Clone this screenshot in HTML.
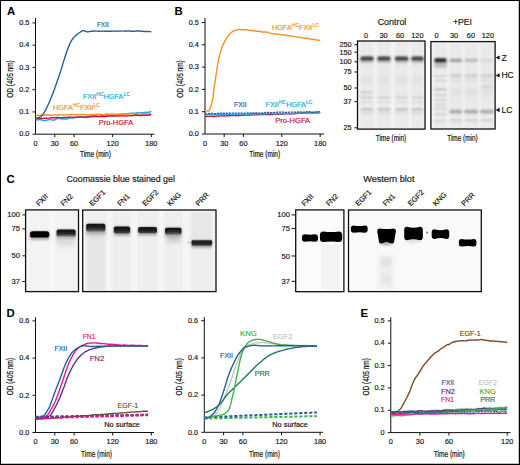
<!DOCTYPE html>
<html><head><meta charset="utf-8"><style>
html,body{margin:0;padding:0;background:#fff;}
body{width:520px;height:465px;overflow:hidden;font-family:"Liberation Sans",sans-serif;}
svg{display:block;}
</style></head><body>
<svg width="520" height="465" viewBox="0 0 520 465" font-family='"Liberation Sans", sans-serif'>
<defs>
<filter id="b05" x="-50%" y="-50%" width="200%" height="200%"><feGaussianBlur stdDeviation="0.5"/></filter>
<filter id="b08" x="-50%" y="-50%" width="200%" height="200%"><feGaussianBlur stdDeviation="0.8"/></filter>
<filter id="b12" x="-50%" y="-50%" width="200%" height="200%"><feGaussianBlur stdDeviation="1.2"/></filter>
<linearGradient id="cg" x1="0" y1="0" x2="0" y2="1"><stop offset="0" stop-color="#141414"/><stop offset="0.55" stop-color="#1e1e1e"/><stop offset="1" stop-color="#4a4a4a"/></linearGradient>
<filter id="b2" x="-50%" y="-50%" width="200%" height="200%"><feGaussianBlur stdDeviation="2"/></filter>
</defs>
<rect x="0" y="0" width="520" height="465" fill="#fff"/>
<text x="7" y="14.8" font-size="11.4" font-weight="bold" fill="#000">A</text>
<text x="174.6" y="14.8" font-size="11.4" font-weight="bold" fill="#000">B</text>
<text x="6.6" y="182.6" font-size="11.4" font-weight="bold" fill="#000">C</text>
<text x="6.6" y="316.8" font-size="11.4" font-weight="bold" fill="#000">D</text>
<text x="360.6" y="316.8" font-size="11.4" font-weight="bold" fill="#000">E</text>
<path d="M35.5,18 V134.2 H154.5" fill="none" stroke="#111" stroke-width="1"/>
<path d="M32.5,134.20 H35.5" stroke="#111" stroke-width="1"/>
<text x="29.30" y="136.40" font-size="7.3" text-anchor="end" fill="#1a1a1a" color="#1a1a1a" stroke-width="0.18" stroke="currentColor" >0.0</text>
<path d="M32.5,111.94 H35.5" stroke="#111" stroke-width="1"/>
<text x="29.30" y="114.14" font-size="7.3" text-anchor="end" fill="#1a1a1a" color="#1a1a1a" stroke-width="0.18" stroke="currentColor" >0.1</text>
<path d="M32.5,89.68 H35.5" stroke="#111" stroke-width="1"/>
<text x="29.30" y="91.88" font-size="7.3" text-anchor="end" fill="#1a1a1a" color="#1a1a1a" stroke-width="0.18" stroke="currentColor" >0.2</text>
<path d="M32.5,67.42 H35.5" stroke="#111" stroke-width="1"/>
<text x="29.30" y="69.62" font-size="7.3" text-anchor="end" fill="#1a1a1a" color="#1a1a1a" stroke-width="0.18" stroke="currentColor" >0.3</text>
<path d="M32.5,45.16 H35.5" stroke="#111" stroke-width="1"/>
<text x="29.30" y="47.36" font-size="7.3" text-anchor="end" fill="#1a1a1a" color="#1a1a1a" stroke-width="0.18" stroke="currentColor" >0.4</text>
<path d="M32.5,22.90 H35.5" stroke="#111" stroke-width="1"/>
<text x="29.30" y="25.10" font-size="7.3" text-anchor="end" fill="#1a1a1a" color="#1a1a1a" stroke-width="0.18" stroke="currentColor" >0.5</text>
<text x="35.50" y="145.80" font-size="7.3" text-anchor="middle" fill="#1a1a1a" color="#1a1a1a" stroke-width="0.18" stroke="currentColor" >0</text>
<path d="M54.80,134.2 V137.2" stroke="#111" stroke-width="1"/>
<text x="54.80" y="145.80" font-size="7.3" text-anchor="middle" fill="#1a1a1a" color="#1a1a1a" stroke-width="0.18" stroke="currentColor" >30</text>
<path d="M74.10,134.2 V137.2" stroke="#111" stroke-width="1"/>
<text x="74.10" y="145.80" font-size="7.3" text-anchor="middle" fill="#1a1a1a" color="#1a1a1a" stroke-width="0.18" stroke="currentColor" >60</text>
<path d="M112.70,134.2 V137.2" stroke="#111" stroke-width="1"/>
<text x="112.70" y="145.80" font-size="7.3" text-anchor="middle" fill="#1a1a1a" color="#1a1a1a" stroke-width="0.18" stroke="currentColor" >120</text>
<path d="M151.30,134.2 V137.2" stroke="#111" stroke-width="1"/>
<text x="151.30" y="145.80" font-size="7.3" text-anchor="middle" fill="#1a1a1a" color="#1a1a1a" stroke-width="0.18" stroke="currentColor" >180</text>
<text x="95.40" y="156.90" font-size="8.4" text-anchor="middle" fill="#1a1a1a" color="#1a1a1a" stroke-width="0.18" stroke="currentColor" style="stroke-width:0.22px" textLength="31" lengthAdjust="spacingAndGlyphs" >Time (min)</text>
<text transform="translate(13.40,79.00) rotate(-90) scale(0.772,1)" font-size="8.4" text-anchor="middle" fill="#1a1a1a" stroke-width="0.18" stroke="currentColor" style="stroke-width:0.22px">OD (405 nm)</text>
<path d="M35.50,120.25 L36.14,119.91 L36.79,120.04 L37.43,119.85 L38.07,119.85 L38.72,119.57 L39.36,119.49 L40.00,119.66 L40.65,119.79 L41.29,119.80 L41.93,119.94 L42.58,120.30 L43.22,120.49 L43.86,120.81 L44.51,120.64 L45.15,120.56 L45.79,120.50 L46.44,120.22 L47.08,120.15 L47.72,119.85 L48.37,119.72 L49.01,119.52 L49.65,119.56 L50.30,119.59 L50.94,119.66 L51.58,119.68 L52.23,120.03 L52.87,120.34 L53.51,119.97 L54.16,120.22 L54.80,119.71 L55.44,119.53 L56.09,119.17 L56.73,118.82 L57.37,118.87 L58.02,118.29 L58.66,118.41 L59.30,118.51 L59.95,118.51 L60.59,118.70 L61.23,118.75 L61.88,119.00 L62.52,118.74 L63.16,118.91 L63.81,118.94 L64.45,118.89 L65.09,119.17 L65.74,118.69 L66.38,119.21 L67.02,118.90 L67.67,118.76 L68.31,118.29 L68.95,118.22 L69.60,118.31 L70.24,117.99 L70.88,117.92 L71.53,117.90 L72.17,118.02 L72.81,117.83 L73.46,117.98 L74.10,117.75 L74.74,117.38 L75.39,117.61 L76.03,117.42 L76.67,117.03 L77.32,117.05 L77.96,117.01 L78.60,117.34 L79.25,116.63 L79.89,116.80 L80.53,116.95 L81.18,116.86 L81.82,116.89 L82.46,116.80 L83.11,117.16 L83.75,116.82 L84.39,117.05 L85.04,117.55 L85.68,117.49 L86.32,117.44 L86.97,117.19 L87.61,117.51 L88.25,117.18 L88.90,116.48 L89.54,116.26 L90.18,116.26 L90.83,116.34 L91.47,115.94 L92.11,115.78 L92.76,115.95 L93.40,115.68 L94.04,115.43 L94.69,115.42 L95.33,115.88 L95.97,115.88 L96.62,115.80 L97.26,116.31 L97.90,116.60 L98.55,116.54 L99.19,116.12 L99.83,116.19 L100.48,116.25 L101.12,115.92 L101.76,115.65 L102.41,115.38 L103.05,115.32 L103.69,115.23 L104.34,114.97 L104.98,115.04 L105.62,115.19 L106.27,115.17 L106.91,115.09 L107.55,114.99 L108.20,114.96 L108.84,114.95 L109.48,114.84 L110.13,115.04 L110.77,115.28 L111.41,115.40 L112.06,115.38 L112.70,115.55 L113.34,115.32 L113.99,115.13 L114.63,115.21 L115.27,115.40 L115.92,115.28 L116.56,114.80 L117.20,114.93 L117.85,114.97 L118.49,114.83 L119.13,114.30 L119.78,114.40 L120.42,114.37 L121.06,114.25 L121.71,113.97 L122.35,113.83 L122.99,113.93 L123.64,113.97 L124.28,114.20 L124.92,114.14 L125.57,114.14 L126.21,114.06 L126.85,114.09 L127.50,113.73 L128.14,113.41 L128.78,113.35 L129.43,113.48 L130.07,113.54 L130.71,113.24 L131.36,113.18 L132.00,113.44 L132.64,113.31 L133.29,113.27 L133.93,113.28 L134.57,113.16 L135.22,113.07 L135.86,112.99 L136.50,112.99 L137.15,112.78 L137.79,112.72 L138.43,112.89 L139.08,112.87 L139.72,113.00 L140.36,112.91 L141.01,112.83 L141.65,112.59 L142.29,112.74 L142.94,112.75 L143.58,112.56 L144.22,112.47 L144.87,112.44 L145.51,112.44 L146.15,112.30 L146.80,112.40 L147.44,112.08 L148.08,112.27 L148.73,112.24 L149.37,112.15 L150.01,112.02 L150.66,111.48 L151.30,111.56" fill="none" stroke="#22a7e3" stroke-width="1.4" stroke-linejoin="round" opacity="1"/>
<path d="M35.50,115.37 L36.14,115.51 L36.79,115.56 L37.43,115.47 L38.07,115.45 L38.72,115.28 L39.36,115.27 L40.00,115.22 L40.65,115.19 L41.29,115.26 L41.93,115.17 L42.58,115.25 L43.22,115.05 L43.86,115.08 L44.51,115.01 L45.15,115.03 L45.79,115.00 L46.44,114.92 L47.08,115.01 L47.72,114.88 L48.37,115.00 L49.01,115.01 L49.65,115.26 L50.30,115.18 L50.94,115.25 L51.58,115.34 L52.23,115.28 L52.87,115.06 L53.51,115.02 L54.16,115.09 L54.80,115.06 L55.44,114.97 L56.09,115.09 L56.73,115.25 L57.37,115.06 L58.02,114.95 L58.66,114.80 L59.30,114.89 L59.95,114.75 L60.59,114.72 L61.23,114.87 L61.88,115.08 L62.52,115.13 L63.16,115.04 L63.81,115.05 L64.45,114.94 L65.09,114.91 L65.74,114.76 L66.38,114.80 L67.02,114.81 L67.67,114.76 L68.31,114.83 L68.95,114.73 L69.60,114.74 L70.24,114.59 L70.88,114.60 L71.53,114.55 L72.17,114.51 L72.81,114.55 L73.46,114.50 L74.10,114.69 L74.74,114.58 L75.39,114.70 L76.03,114.77 L76.67,114.72 L77.32,114.70 L77.96,114.57 L78.60,114.58 L79.25,114.53 L79.89,114.55 L80.53,114.53 L81.18,114.56 L81.82,114.68 L82.46,114.67 L83.11,114.63 L83.75,114.62 L84.39,114.62 L85.04,114.73 L85.68,114.72 L86.32,114.75 L86.97,114.87 L87.61,114.79 L88.25,114.91 L88.90,114.75 L89.54,114.73 L90.18,114.74 L90.83,114.73 L91.47,114.74 L92.11,114.57 L92.76,114.58 L93.40,114.65 L94.04,114.59 L94.69,114.41 L95.33,114.40 L95.97,114.36 L96.62,114.46 L97.26,114.32 L97.90,114.30 L98.55,114.26 L99.19,114.13 L99.83,114.31 L100.48,114.35 L101.12,114.31 L101.76,114.48 L102.41,114.58 L103.05,114.76 L103.69,114.59 L104.34,114.40 L104.98,114.37 L105.62,114.26 L106.27,114.24 L106.91,114.16 L107.55,114.20 L108.20,114.23 L108.84,114.23 L109.48,114.25 L110.13,114.11 L110.77,114.06 L111.41,113.98 L112.06,113.89 L112.70,113.98 L113.34,114.06 L113.99,114.10 L114.63,114.14 L115.27,114.23 L115.92,114.33 L116.56,114.25 L117.20,114.21 L117.85,114.30 L118.49,114.29 L119.13,114.29 L119.78,114.43 L120.42,114.38 L121.06,114.26 L121.71,114.37 L122.35,114.38 L122.99,114.36 L123.64,114.14 L124.28,114.19 L124.92,114.11 L125.57,113.97 L126.21,113.98 L126.85,114.02 L127.50,114.01 L128.14,114.04 L128.78,114.07 L129.43,113.99 L130.07,113.87 L130.71,113.74 L131.36,113.79 L132.00,113.74 L132.64,113.84 L133.29,113.95 L133.93,114.10 L134.57,114.20 L135.22,114.26 L135.86,114.35 L136.50,114.29 L137.15,114.20 L137.79,114.11 L138.43,113.96 L139.08,113.80 L139.72,113.61 L140.36,113.66 L141.01,113.79 L141.65,113.72 L142.29,113.79 L142.94,113.79 L143.58,113.83 L144.22,113.69 L144.87,113.59 L145.51,113.57 L146.15,113.65 L146.80,113.86 L147.44,113.92 L148.08,113.89 L148.73,113.99 L149.37,113.95 L150.01,113.93 L150.66,113.78 L151.30,113.74" fill="none" stroke="#f5901e" stroke-width="1.4" stroke-linejoin="round" opacity="1"/>
<path d="M35.50,118.05 L36.14,118.12 L36.79,118.14 L37.43,118.18 L38.07,118.23 L38.72,118.28 L39.36,118.46 L40.00,118.45 L40.65,118.43 L41.29,118.28 L41.93,118.32 L42.58,118.35 L43.22,118.40 L43.86,118.34 L44.51,118.32 L45.15,118.33 L45.79,118.18 L46.44,118.21 L47.08,118.17 L47.72,118.09 L48.37,118.11 L49.01,118.08 L49.65,118.11 L50.30,118.00 L50.94,117.78 L51.58,117.71 L52.23,117.75 L52.87,117.75 L53.51,117.66 L54.16,117.69 L54.80,117.70 L55.44,117.76 L56.09,117.67 L56.73,117.56 L57.37,117.60 L58.02,117.57 L58.66,117.55 L59.30,117.60 L59.95,117.60 L60.59,117.62 L61.23,117.65 L61.88,117.68 L62.52,117.68 L63.16,117.57 L63.81,117.45 L64.45,117.42 L65.09,117.42 L65.74,117.37 L66.38,117.38 L67.02,117.40 L67.67,117.37 L68.31,117.31 L68.95,117.20 L69.60,117.14 L70.24,117.13 L70.88,117.04 L71.53,117.12 L72.17,117.18 L72.81,117.32 L73.46,117.35 L74.10,117.24 L74.74,117.32 L75.39,117.37 L76.03,117.37 L76.67,117.17 L77.32,117.05 L77.96,117.13 L78.60,117.08 L79.25,116.98 L79.89,117.01 L80.53,117.08 L81.18,117.15 L81.82,117.19 L82.46,117.18 L83.11,117.17 L83.75,117.15 L84.39,117.19 L85.04,117.10 L85.68,116.90 L86.32,116.87 L86.97,116.86 L87.61,116.76 L88.25,116.69 L88.90,116.77 L89.54,116.78 L90.18,116.80 L90.83,116.80 L91.47,116.84 L92.11,116.86 L92.76,116.81 L93.40,116.83 L94.04,116.68 L94.69,116.58 L95.33,116.53 L95.97,116.53 L96.62,116.50 L97.26,116.56 L97.90,116.63 L98.55,116.59 L99.19,116.56 L99.83,116.49 L100.48,116.50 L101.12,116.43 L101.76,116.40 L102.41,116.49 L103.05,116.51 L103.69,116.43 L104.34,116.46 L104.98,116.46 L105.62,116.51 L106.27,116.36 L106.91,116.28 L107.55,116.28 L108.20,116.15 L108.84,116.09 L109.48,115.99 L110.13,116.14 L110.77,116.14 L111.41,116.12 L112.06,116.20 L112.70,116.15 L113.34,116.11 L113.99,116.09 L114.63,116.11 L115.27,116.14 L115.92,116.07 L116.56,116.08 L117.20,116.16 L117.85,116.07 L118.49,116.02 L119.13,115.94 L119.78,115.89 L120.42,115.91 L121.06,115.78 L121.71,115.86 L122.35,115.80 L122.99,115.84 L123.64,115.89 L124.28,115.88 L124.92,116.00 L125.57,115.98 L126.21,116.03 L126.85,116.04 L127.50,115.91 L128.14,115.92 L128.78,115.87 L129.43,115.79 L130.07,115.66 L130.71,115.59 L131.36,115.65 L132.00,115.64 L132.64,115.61 L133.29,115.54 L133.93,115.59 L134.57,115.51 L135.22,115.40 L135.86,115.31 L136.50,115.27 L137.15,115.29 L137.79,115.42 L138.43,115.52 L139.08,115.54 L139.72,115.55 L140.36,115.48 L141.01,115.48 L141.65,115.29 L142.29,115.20 L142.94,115.20 L143.58,115.14 L144.22,115.26 L144.87,115.20 L145.51,115.28 L146.15,115.18 L146.80,115.17 L147.44,115.20 L148.08,115.01 L148.73,115.02 L149.37,114.87 L150.01,114.99 L150.66,114.97 L151.30,114.97" fill="none" stroke="#c5123a" stroke-width="1.4" stroke-linejoin="round" opacity="1"/>
<path d="M35.50,119.10 L36.14,118.85 L36.79,118.58 L37.43,118.21 L38.07,117.91 L38.72,117.60 L39.36,117.29 L40.00,116.88 L40.65,116.47 L41.29,115.97 L41.93,115.39 L42.58,114.76 L43.22,113.97 L43.86,113.01 L44.51,111.92 L45.15,110.83 L45.79,109.66 L46.44,108.31 L47.08,107.02 L47.72,105.70 L48.37,104.23 L49.01,102.74 L49.65,101.25 L50.30,99.81 L50.94,98.30 L51.58,96.72 L52.23,95.14 L52.87,93.47 L53.51,91.79 L54.16,90.01 L54.80,88.18 L55.44,86.37 L56.09,84.53 L56.73,82.68 L57.37,80.82 L58.02,78.98 L58.66,77.16 L59.30,75.25 L59.95,73.33 L60.59,71.39 L61.23,69.37 L61.88,67.25 L62.52,65.01 L63.16,62.91 L63.81,60.85 L64.45,58.79 L65.09,56.72 L65.74,54.69 L66.38,52.82 L67.02,50.97 L67.67,49.21 L68.31,47.55 L68.95,45.90 L69.60,44.38 L70.24,42.91 L70.88,41.64 L71.53,40.53 L72.17,39.60 L72.81,38.73 L73.46,37.88 L74.10,37.14 L74.74,36.47 L75.39,35.86 L76.03,35.22 L76.67,34.67 L77.32,34.24 L77.96,33.75 L78.60,33.25 L79.25,32.81 L79.89,32.39 L80.53,31.92 L81.18,31.42 L81.82,31.03 L82.46,30.75 L83.11,30.61 L83.75,30.63 L84.39,30.77 L85.04,31.06 L85.68,31.39 L86.32,31.72 L86.97,31.83 L87.61,31.80 L88.25,31.80 L88.90,31.67 L89.54,31.60 L90.18,31.43 L90.83,31.35 L91.47,31.19 L92.11,31.07 L92.76,31.05 L93.40,31.07 L94.04,31.02 L94.69,30.98 L95.33,31.06 L95.97,31.09 L96.62,31.17 L97.26,31.12 L97.90,31.20 L98.55,31.19 L99.19,31.20 L99.83,31.22 L100.48,31.15 L101.12,31.16 L101.76,31.16 L102.41,31.20 L103.05,31.16 L103.69,31.15 L104.34,31.21 L104.98,31.22 L105.62,31.22 L106.27,31.24 L106.91,31.26 L107.55,31.25 L108.20,31.21 L108.84,31.26 L109.48,31.21 L110.13,31.20 L110.77,31.22 L111.41,31.21 L112.06,31.13 L112.70,31.12 L113.34,31.19 L113.99,31.15 L114.63,31.17 L115.27,31.13 L115.92,31.23 L116.56,31.20 L117.20,31.11 L117.85,31.11 L118.49,31.06 L119.13,31.09 L119.78,31.06 L120.42,31.06 L121.06,31.10 L121.71,31.09 L122.35,31.08 L122.99,31.09 L123.64,31.08 L124.28,31.03 L124.92,30.98 L125.57,31.03 L126.21,31.06 L126.85,31.05 L127.50,30.96 L128.14,30.99 L128.78,30.98 L129.43,31.03 L130.07,31.00 L130.71,31.06 L131.36,31.20 L132.00,31.23 L132.64,31.28 L133.29,31.22 L133.93,31.24 L134.57,31.19 L135.22,31.17 L135.86,31.06 L136.50,31.05 L137.15,31.04 L137.79,30.99 L138.43,30.98 L139.08,30.95 L139.72,31.05 L140.36,31.01 L141.01,31.09 L141.65,31.21 L142.29,31.26 L142.94,31.37 L143.58,31.43 L144.22,31.48 L144.87,31.47 L145.51,31.45 L146.15,31.45 L146.80,31.44 L147.44,31.43 L148.08,31.51 L148.73,31.56 L149.37,31.59 L150.01,31.64 L150.66,31.64 L151.30,31.69" fill="none" stroke="#24609a" stroke-width="1.4" stroke-linejoin="round" opacity="1"/>
<text x="96.90" y="26.90" font-size="7.3" text-anchor="start" fill="#24609a" color="#24609a" stroke-width="0.18" stroke="currentColor" textLength="11.9" lengthAdjust="spacingAndGlyphs" >FXII</text>
<text x="82.9" y="98.8" font-size="7.3" fill="#22a7e3" color="#22a7e3" stroke-width="0.18" stroke="currentColor">FXII<tspan font-size="5" dy="-3">HC</tspan><tspan dy="3">HGFA</tspan><tspan font-size="5" dy="-3">LC</tspan></text>
<text x="53.1" y="109.6" font-size="7.3" fill="#f5901e" color="#f5901e" stroke-width="0.18" stroke="currentColor">HGFA<tspan font-size="5" dy="-3">HC</tspan><tspan dy="3">FXII</tspan><tspan font-size="5" dy="-3">LC</tspan></text>
<text x="98.80" y="124.50" font-size="7.3" text-anchor="start" fill="#c5123a" color="#c5123a" stroke-width="0.18" stroke="currentColor" textLength="34.3" lengthAdjust="spacingAndGlyphs" >Pro-HGFA</text>
<path d="M205.0,18 V134.0 H324.2" fill="none" stroke="#111" stroke-width="1"/>
<path d="M202.0,134.00 H205.0" stroke="#111" stroke-width="1"/>
<text x="198.80" y="136.20" font-size="7.3" text-anchor="end" fill="#1a1a1a" color="#1a1a1a" stroke-width="0.18" stroke="currentColor" >0.0</text>
<path d="M202.0,111.70 H205.0" stroke="#111" stroke-width="1"/>
<text x="198.80" y="113.90" font-size="7.3" text-anchor="end" fill="#1a1a1a" color="#1a1a1a" stroke-width="0.18" stroke="currentColor" >0.1</text>
<path d="M202.0,89.40 H205.0" stroke="#111" stroke-width="1"/>
<text x="198.80" y="91.60" font-size="7.3" text-anchor="end" fill="#1a1a1a" color="#1a1a1a" stroke-width="0.18" stroke="currentColor" >0.2</text>
<path d="M202.0,67.10 H205.0" stroke="#111" stroke-width="1"/>
<text x="198.80" y="69.30" font-size="7.3" text-anchor="end" fill="#1a1a1a" color="#1a1a1a" stroke-width="0.18" stroke="currentColor" >0.3</text>
<path d="M202.0,44.80 H205.0" stroke="#111" stroke-width="1"/>
<text x="198.80" y="47.00" font-size="7.3" text-anchor="end" fill="#1a1a1a" color="#1a1a1a" stroke-width="0.18" stroke="currentColor" >0.4</text>
<path d="M202.0,22.50 H205.0" stroke="#111" stroke-width="1"/>
<text x="198.80" y="24.70" font-size="7.3" text-anchor="end" fill="#1a1a1a" color="#1a1a1a" stroke-width="0.18" stroke="currentColor" >0.5</text>
<text x="205.00" y="145.60" font-size="7.3" text-anchor="middle" fill="#1a1a1a" color="#1a1a1a" stroke-width="0.18" stroke="currentColor" >0</text>
<path d="M224.20,134.0 V137.0" stroke="#111" stroke-width="1"/>
<text x="224.20" y="145.60" font-size="7.3" text-anchor="middle" fill="#1a1a1a" color="#1a1a1a" stroke-width="0.18" stroke="currentColor" >30</text>
<path d="M243.40,134.0 V137.0" stroke="#111" stroke-width="1"/>
<text x="243.40" y="145.60" font-size="7.3" text-anchor="middle" fill="#1a1a1a" color="#1a1a1a" stroke-width="0.18" stroke="currentColor" >60</text>
<path d="M281.80,134.0 V137.0" stroke="#111" stroke-width="1"/>
<text x="281.80" y="145.60" font-size="7.3" text-anchor="middle" fill="#1a1a1a" color="#1a1a1a" stroke-width="0.18" stroke="currentColor" >120</text>
<path d="M320.20,134.0 V137.0" stroke="#111" stroke-width="1"/>
<text x="320.20" y="145.60" font-size="7.3" text-anchor="middle" fill="#1a1a1a" color="#1a1a1a" stroke-width="0.18" stroke="currentColor" >180</text>
<text x="264.70" y="156.60" font-size="8.4" text-anchor="middle" fill="#1a1a1a" color="#1a1a1a" stroke-width="0.18" stroke="currentColor" style="stroke-width:0.22px" textLength="31" lengthAdjust="spacingAndGlyphs" >Time (min)</text>
<text transform="translate(182.60,79.00) rotate(-90) scale(0.772,1)" font-size="8.4" text-anchor="middle" fill="#1a1a1a" stroke-width="0.18" stroke="currentColor" style="stroke-width:0.22px">OD (405 nm)</text>
<path d="M205.00,116.71 L205.64,116.63 L206.28,116.56 L206.92,116.51 L207.56,116.42 L208.20,116.40 L208.84,116.40 L209.48,116.34 L210.12,116.36 L210.76,116.20 L211.40,116.30 L212.04,116.38 L212.68,116.47 L213.32,116.59 L213.96,116.54 L214.60,116.52 L215.24,116.42 L215.88,116.24 L216.52,116.16 L217.16,116.07 L217.80,116.09 L218.44,116.06 L219.08,116.00 L219.72,116.07 L220.36,115.91 L221.00,115.88 L221.64,115.78 L222.28,115.89 L222.92,115.91 L223.56,115.93 L224.20,116.04 L224.84,115.94 L225.48,115.92 L226.12,115.90 L226.76,115.78 L227.40,115.73 L228.04,115.62 L228.68,115.69 L229.32,115.73 L229.96,115.66 L230.60,115.67 L231.24,115.62 L231.88,115.66 L232.52,115.58 L233.16,115.44 L233.80,115.50 L234.44,115.65 L235.08,115.49 L235.72,115.50 L236.36,115.55 L237.00,115.58 L237.64,115.54 L238.28,115.32 L238.92,115.47 L239.56,115.45 L240.20,115.47 L240.84,115.39 L241.48,115.36 L242.12,115.33 L242.76,115.17 L243.40,115.20 L244.04,115.12 L244.68,115.14 L245.32,115.10 L245.96,115.15 L246.60,115.15 L247.24,115.02 L247.88,115.01 L248.52,115.04 L249.16,114.98 L249.80,114.94 L250.44,114.96 L251.08,115.05 L251.72,114.90 L252.36,114.88 L253.00,114.88 L253.64,114.87 L254.28,114.85 L254.92,114.76 L255.56,114.88 L256.20,114.82 L256.84,114.75 L257.48,114.70 L258.12,114.65 L258.76,114.61 L259.40,114.54 L260.04,114.44 L260.68,114.52 L261.32,114.49 L261.96,114.46 L262.60,114.44 L263.24,114.48 L263.88,114.61 L264.52,114.47 L265.16,114.52 L265.80,114.55 L266.44,114.52 L267.08,114.43 L267.72,114.45 L268.36,114.61 L269.00,114.55 L269.64,114.57 L270.28,114.59 L270.92,114.57 L271.56,114.44 L272.20,114.38 L272.84,114.45 L273.48,114.33 L274.12,114.33 L274.76,114.38 L275.40,114.47 L276.04,114.35 L276.68,114.30 L277.32,114.39 L277.96,114.30 L278.60,114.20 L279.24,114.03 L279.88,114.11 L280.52,114.17 L281.16,114.15 L281.80,114.18 L282.44,114.21 L283.08,114.17 L283.72,114.06 L284.36,113.94 L285.00,113.83 L285.64,113.80 L286.28,113.77 L286.92,113.73 L287.56,113.82 L288.20,113.68 L288.84,113.63 L289.48,113.71 L290.12,113.68 L290.76,113.72 L291.40,113.67 L292.04,113.74 L292.68,113.82 L293.32,113.68 L293.96,113.68 L294.60,113.76 L295.24,113.62 L295.88,113.51 L296.52,113.49 L297.16,113.43 L297.80,113.26 L298.44,113.21 L299.08,113.27 L299.72,113.33 L300.36,113.23 L301.00,113.27 L301.64,113.44 L302.28,113.26 L302.92,113.23 L303.56,113.14 L304.20,113.03 L304.84,113.03 L305.48,112.95 L306.12,112.95 L306.76,112.91 L307.40,112.90 L308.04,113.01 L308.68,112.79 L309.32,112.71 L309.96,112.72 L310.60,112.68 L311.24,112.67 L311.88,112.74 L312.52,112.88 L313.16,112.85 L313.80,112.92 L314.44,112.90 L315.08,112.90 L315.72,112.82 L316.36,112.65 L317.00,112.62 L317.64,112.52 L318.28,112.54 L318.92,112.51 L319.56,112.48 L320.20,112.59" fill="none" stroke="#c5123a" stroke-width="1.4" stroke-linejoin="round" opacity="1"/>
<path d="M205.00,114.44 L205.64,114.56 L206.28,114.67 L206.92,114.98 L207.56,114.84 L208.20,114.56 L208.84,114.54 L209.48,114.58 L210.12,114.46 L210.76,114.42 L211.40,114.50 L212.04,114.62 L212.68,114.84 L213.32,114.63 L213.96,114.74 L214.60,114.66 L215.24,114.58 L215.88,114.56 L216.52,114.47 L217.16,114.47 L217.80,114.39 L218.44,114.40 L219.08,114.13 L219.72,114.27 L220.36,114.07 L221.00,114.23 L221.64,114.41 L222.28,114.25 L222.92,114.67 L223.56,114.53 L224.20,114.59 L224.84,114.55 L225.48,114.49 L226.12,114.53 L226.76,114.36 L227.40,114.47 L228.04,114.57 L228.68,114.55 L229.32,114.56 L229.96,114.63 L230.60,114.61 L231.24,114.54 L231.88,114.59 L232.52,114.72 L233.16,114.57 L233.80,114.65 L234.44,114.50 L235.08,114.48 L235.72,114.25 L236.36,114.06 L237.00,114.07 L237.64,113.99 L238.28,114.05 L238.92,114.02 L239.56,114.01 L240.20,114.09 L240.84,113.91 L241.48,113.91 L242.12,113.91 L242.76,114.16 L243.40,114.22 L244.04,114.28 L244.68,114.45 L245.32,114.50 L245.96,114.66 L246.60,114.40 L247.24,114.27 L247.88,114.06 L248.52,114.10 L249.16,113.95 L249.80,113.90 L250.44,113.81 L251.08,113.95 L251.72,113.94 L252.36,113.67 L253.00,113.78 L253.64,113.60 L254.28,113.78 L254.92,113.75 L255.56,113.59 L256.20,113.80 L256.84,113.71 L257.48,113.96 L258.12,113.82 L258.76,113.82 L259.40,113.94 L260.04,113.97 L260.68,113.78 L261.32,113.72 L261.96,113.67 L262.60,113.77 L263.24,113.91 L263.88,113.74 L264.52,113.97 L265.16,113.98 L265.80,113.95 L266.44,113.67 L267.08,113.58 L267.72,113.59 L268.36,113.70 L269.00,113.41 L269.64,113.38 L270.28,113.64 L270.92,113.50 L271.56,113.62 L272.20,113.44 L272.84,113.77 L273.48,113.88 L274.12,113.85 L274.76,113.93 L275.40,113.90 L276.04,114.02 L276.68,113.86 L277.32,113.69 L277.96,113.58 L278.60,113.59 L279.24,113.67 L279.88,113.73 L280.52,113.73 L281.16,113.84 L281.80,113.74 L282.44,113.70 L283.08,113.62 L283.72,113.49 L284.36,113.36 L285.00,113.29 L285.64,113.30 L286.28,113.35 L286.92,113.50 L287.56,113.51 L288.20,113.71 L288.84,113.77 L289.48,113.67 L290.12,113.84 L290.76,113.54 L291.40,113.53 L292.04,113.39 L292.68,113.39 L293.32,113.40 L293.96,113.30 L294.60,113.56 L295.24,113.47 L295.88,113.45 L296.52,113.34 L297.16,113.34 L297.80,113.38 L298.44,113.16 L299.08,113.16 L299.72,113.15 L300.36,113.18 L301.00,113.20 L301.64,113.13 L302.28,113.15 L302.92,113.06 L303.56,113.14 L304.20,113.14 L304.84,113.25 L305.48,113.29 L306.12,113.30 L306.76,113.36 L307.40,113.12 L308.04,113.12 L308.68,112.93 L309.32,112.77 L309.96,112.72 L310.60,113.00 L311.24,113.12 L311.88,113.08 L312.52,113.25 L313.16,113.28 L313.80,113.14 L314.44,112.95 L315.08,113.00 L315.72,112.91 L316.36,112.97 L317.00,113.06 L317.64,113.16 L318.28,112.96 L318.92,112.79 L319.56,112.79 L320.20,112.41" fill="none" stroke="#22a7e3" stroke-width="1.4" stroke-linejoin="round" opacity="1"/>
<path d="M205.00,113.82 L205.64,113.75 L206.28,113.78 L206.92,113.67 L207.56,113.70 L208.20,113.68 L208.84,113.50 L209.48,113.54 L210.12,113.45 L210.76,113.44 L211.40,113.46 L212.04,113.39 L212.68,113.68 L213.32,113.66 L213.96,113.81 L214.60,113.74 L215.24,113.66 L215.88,113.72 L216.52,113.52 L217.16,113.54 L217.80,113.29 L218.44,113.26 L219.08,113.14 L219.72,113.04 L220.36,113.07 L221.00,113.05 L221.64,113.21 L222.28,113.22 L222.92,113.29 L223.56,113.23 L224.20,113.19 L224.84,113.35 L225.48,113.20 L226.12,113.19 L226.76,113.25 L227.40,113.38 L228.04,113.34 L228.68,113.20 L229.32,113.24 L229.96,113.25 L230.60,113.10 L231.24,113.05 L231.88,113.05 L232.52,113.05 L233.16,113.01 L233.80,113.04 L234.44,113.16 L235.08,113.15 L235.72,113.22 L236.36,113.27 L237.00,113.42 L237.64,113.30 L238.28,113.16 L238.92,113.21 L239.56,113.09 L240.20,113.12 L240.84,113.08 L241.48,113.14 L242.12,113.23 L242.76,113.12 L243.40,113.30 L244.04,113.30 L244.68,113.23 L245.32,113.21 L245.96,113.05 L246.60,113.10 L247.24,112.99 L247.88,112.80 L248.52,112.99 L249.16,113.09 L249.80,113.04 L250.44,113.05 L251.08,112.99 L251.72,113.08 L252.36,112.94 L253.00,112.80 L253.64,113.09 L254.28,112.96 L254.92,112.90 L255.56,112.82 L256.20,112.81 L256.84,112.93 L257.48,112.86 L258.12,113.00 L258.76,113.02 L259.40,113.17 L260.04,113.16 L260.68,113.00 L261.32,112.92 L261.96,112.83 L262.60,112.93 L263.24,112.86 L263.88,112.63 L264.52,112.56 L265.16,112.64 L265.80,112.50 L266.44,112.41 L267.08,112.35 L267.72,112.54 L268.36,112.49 L269.00,112.41 L269.64,112.54 L270.28,112.59 L270.92,112.67 L271.56,112.59 L272.20,112.68 L272.84,112.57 L273.48,112.62 L274.12,112.56 L274.76,112.39 L275.40,112.33 L276.04,112.37 L276.68,112.37 L277.32,112.25 L277.96,112.15 L278.60,112.19 L279.24,112.16 L279.88,112.13 L280.52,112.24 L281.16,112.19 L281.80,112.21 L282.44,112.20 L283.08,112.18 L283.72,112.12 L284.36,112.06 L285.00,112.29 L285.64,112.35 L286.28,112.30 L286.92,112.44 L287.56,112.47 L288.20,112.47 L288.84,112.31 L289.48,112.19 L290.12,112.21 L290.76,112.15 L291.40,112.03 L292.04,112.07 L292.68,112.10 L293.32,112.12 L293.96,112.10 L294.60,112.09 L295.24,112.23 L295.88,112.23 L296.52,112.16 L297.16,112.12 L297.80,112.02 L298.44,112.01 L299.08,111.94 L299.72,112.05 L300.36,111.96 L301.00,111.93 L301.64,112.05 L302.28,112.08 L302.92,112.24 L303.56,112.02 L304.20,112.16 L304.84,112.10 L305.48,112.04 L306.12,111.88 L306.76,111.69 L307.40,111.65 L308.04,111.68 L308.68,111.67 L309.32,111.72 L309.96,111.89 L310.60,111.90 L311.24,112.04 L311.88,111.91 L312.52,112.06 L313.16,112.14 L313.80,112.07 L314.44,112.04 L315.08,111.95 L315.72,111.90 L316.36,111.75 L317.00,111.61 L317.64,111.46 L318.28,111.61 L318.92,111.62 L319.56,111.59 L320.20,111.77" fill="none" stroke="#24609a" stroke-width="1.3" stroke-linejoin="round" stroke-dasharray="2.2 0.8" opacity="1"/>
<path d="M205.00,110.78 L205.64,110.82 L206.28,110.86 L206.92,110.88 L207.56,111.10 L208.20,111.21 L208.84,110.72 L209.48,109.79 L210.12,108.58 L210.76,107.15 L211.40,104.91 L212.04,101.89 L212.68,98.39 L213.32,94.29 L213.96,89.57 L214.60,84.96 L215.24,80.66 L215.88,76.04 L216.52,71.82 L217.16,67.71 L217.80,63.77 L218.44,60.29 L219.08,57.26 L219.72,54.69 L220.36,52.36 L221.00,50.27 L221.64,48.50 L222.28,46.81 L222.92,45.19 L223.56,43.85 L224.20,42.50 L224.84,41.35 L225.48,40.11 L226.12,39.08 L226.76,38.09 L227.40,37.15 L228.04,36.23 L228.68,35.23 L229.32,34.48 L229.96,33.81 L230.60,33.19 L231.24,32.52 L231.88,31.98 L232.52,31.56 L233.16,31.25 L233.80,30.86 L234.44,30.62 L235.08,30.49 L235.72,30.31 L236.36,30.14 L237.00,29.89 L237.64,29.64 L238.28,29.50 L238.92,29.40 L239.56,29.36 L240.20,29.46 L240.84,29.50 L241.48,29.66 L242.12,29.71 L242.76,29.72 L243.40,29.77 L244.04,29.69 L244.68,29.67 L245.32,29.72 L245.96,29.60 L246.60,29.60 L247.24,29.78 L247.88,29.96 L248.52,30.13 L249.16,30.14 L249.80,30.32 L250.44,30.51 L251.08,30.70 L251.72,30.53 L252.36,30.52 L253.00,30.57 L253.64,30.76 L254.28,30.84 L254.92,30.68 L255.56,31.01 L256.20,31.08 L256.84,31.22 L257.48,31.14 L258.12,31.24 L258.76,31.29 L259.40,31.46 L260.04,31.53 L260.68,31.59 L261.32,31.82 L261.96,31.84 L262.60,32.06 L263.24,31.97 L263.88,32.10 L264.52,32.14 L265.16,32.05 L265.80,32.12 L266.44,32.01 L267.08,32.10 L267.72,32.25 L268.36,32.39 L269.00,32.64 L269.64,32.92 L270.28,33.18 L270.92,33.41 L271.56,33.53 L272.20,33.67 L272.84,33.80 L273.48,33.88 L274.12,33.97 L274.76,33.98 L275.40,33.95 L276.04,33.97 L276.68,33.96 L277.32,34.00 L277.96,34.12 L278.60,34.30 L279.24,34.56 L279.88,34.64 L280.52,34.82 L281.16,34.88 L281.80,34.99 L282.44,34.88 L283.08,34.91 L283.72,34.97 L284.36,35.05 L285.00,35.06 L285.64,35.18 L286.28,35.49 L286.92,35.49 L287.56,35.69 L288.20,35.76 L288.84,35.85 L289.48,35.82 L290.12,35.80 L290.76,36.06 L291.40,36.18 L292.04,36.28 L292.68,36.39 L293.32,36.50 L293.96,36.58 L294.60,36.64 L295.24,36.68 L295.88,36.71 L296.52,36.91 L297.16,37.08 L297.80,37.13 L298.44,37.05 L299.08,37.12 L299.72,37.28 L300.36,37.38 L301.00,37.43 L301.64,37.65 L302.28,37.85 L302.92,37.92 L303.56,37.98 L304.20,37.90 L304.84,38.06 L305.48,38.19 L306.12,38.19 L306.76,38.26 L307.40,38.45 L308.04,38.63 L308.68,38.73 L309.32,38.73 L309.96,38.90 L310.60,39.00 L311.24,39.09 L311.88,39.28 L312.52,39.26 L313.16,39.37 L313.80,39.39 L314.44,39.63 L315.08,39.70 L315.72,39.90 L316.36,39.95 L317.00,39.92 L317.64,40.09 L318.28,40.12 L318.92,40.31 L319.56,40.31 L320.20,40.52" fill="none" stroke="#f5901e" stroke-width="1.4" stroke-linejoin="round" opacity="1"/>
<text x="271.9" y="29.6" font-size="7.3" fill="#f5901e" color="#f5901e" stroke-width="0.18" stroke="currentColor">HGFA<tspan font-size="5" dy="-3">HC</tspan><tspan dy="3">FXII</tspan><tspan font-size="5" dy="-3">LC</tspan></text>
<text x="234.00" y="107.10" font-size="7.3" text-anchor="start" fill="#24609a" color="#24609a" stroke-width="0.18" stroke="currentColor" textLength="12.7" lengthAdjust="spacingAndGlyphs" >FXII</text>
<text x="265.5" y="107.1" font-size="7.3" fill="#22a7e3" color="#22a7e3" stroke-width="0.18" stroke="currentColor">FXII<tspan font-size="5" dy="-3">HC</tspan><tspan dy="3">HGFA</tspan><tspan font-size="5" dy="-3">LC</tspan></text>
<text x="275.20" y="123.30" font-size="7.3" text-anchor="start" fill="#c5123a" color="#c5123a" stroke-width="0.18" stroke="currentColor" textLength="35" lengthAdjust="spacingAndGlyphs" >Pro-HGFA</text>
<path d="M354.4,44.7 H357.2" stroke="#111" stroke-width="1"/>
<text x="351.60" y="47.10" font-size="7.3" text-anchor="end" fill="#1a1a1a" color="#1a1a1a" stroke-width="0.18" stroke="currentColor" >250</text>
<path d="M354.4,52.2 H357.2" stroke="#111" stroke-width="1"/>
<text x="351.60" y="54.60" font-size="7.3" text-anchor="end" fill="#1a1a1a" color="#1a1a1a" stroke-width="0.18" stroke="currentColor" >150</text>
<path d="M354.4,61.8 H357.2" stroke="#111" stroke-width="1"/>
<text x="351.60" y="64.20" font-size="7.3" text-anchor="end" fill="#1a1a1a" color="#1a1a1a" stroke-width="0.18" stroke="currentColor" >100</text>
<path d="M354.4,72.0 H357.2" stroke="#111" stroke-width="1"/>
<text x="351.60" y="74.40" font-size="7.3" text-anchor="end" fill="#1a1a1a" color="#1a1a1a" stroke-width="0.18" stroke="currentColor" >75</text>
<path d="M354.4,88.0 H357.2" stroke="#111" stroke-width="1"/>
<text x="351.60" y="90.40" font-size="7.3" text-anchor="end" fill="#1a1a1a" color="#1a1a1a" stroke-width="0.18" stroke="currentColor" >50</text>
<path d="M354.4,101.6 H357.2" stroke="#111" stroke-width="1"/>
<text x="351.60" y="104.00" font-size="7.3" text-anchor="end" fill="#1a1a1a" color="#1a1a1a" stroke-width="0.18" stroke="currentColor" >37</text>
<path d="M354.4,127.8 H357.2" stroke="#111" stroke-width="1"/>
<text x="351.60" y="130.20" font-size="7.3" text-anchor="end" fill="#1a1a1a" color="#1a1a1a" stroke-width="0.18" stroke="currentColor" >25</text>
<rect x="357.5" y="41.0" width="67.5" height="88.1" fill="#f3f3f3"/>
<rect x="360.4" y="41.0" width="13.100000000000023" height="88.1" fill="#eaeaea" filter="url(#b08)"/>
<rect x="377.4" y="41.0" width="13.100000000000023" height="88.1" fill="#eaeaea" filter="url(#b08)"/>
<rect x="395.0" y="41.0" width="13.300000000000011" height="88.1" fill="#eaeaea" filter="url(#b08)"/>
<rect x="411.3" y="41.0" width="12.300000000000011" height="88.1" fill="#eaeaea" filter="url(#b08)"/>
<rect x="360.40" y="56.50" width="13.10" height="4.20" rx="1.5" fill="#3a3a3a" opacity="1" filter="url(#b08)"/>
<rect x="360.40" y="59.50" width="13.10" height="4.00" rx="2.0" fill="#888" opacity="0.35" filter="url(#b12)"/>
<rect x="360.40" y="96.40" width="13.10" height="1.80" rx="0.9" fill="#999" opacity="0.4" filter="url(#b08)"/>
<rect x="360.40" y="101.50" width="13.10" height="1.60" rx="0.8" fill="#aaa" opacity="0.3" filter="url(#b08)"/>
<rect x="360.40" y="108.40" width="13.10" height="2.20" rx="1.1" fill="#888" opacity="0.5" filter="url(#b08)"/>
<rect x="360.40" y="112.30" width="13.10" height="1.60" rx="0.8" fill="#aaa" opacity="0.3" filter="url(#b08)"/>
<rect x="360.40" y="75.00" width="13.10" height="10.00" rx="5.0" fill="#ccc" opacity="0.25" filter="url(#b2)"/>
<rect x="377.40" y="56.50" width="13.10" height="4.20" rx="1.5" fill="#3a3a3a" opacity="1" filter="url(#b08)"/>
<rect x="377.40" y="59.50" width="13.10" height="4.00" rx="2.0" fill="#888" opacity="0.35" filter="url(#b12)"/>
<rect x="377.40" y="96.40" width="13.10" height="1.80" rx="0.9" fill="#999" opacity="0.4" filter="url(#b08)"/>
<rect x="377.40" y="101.50" width="13.10" height="1.60" rx="0.8" fill="#aaa" opacity="0.3" filter="url(#b08)"/>
<rect x="377.40" y="108.40" width="13.10" height="2.20" rx="1.1" fill="#888" opacity="0.5" filter="url(#b08)"/>
<rect x="377.40" y="112.30" width="13.10" height="1.60" rx="0.8" fill="#aaa" opacity="0.3" filter="url(#b08)"/>
<rect x="377.40" y="75.00" width="13.10" height="10.00" rx="5.0" fill="#ccc" opacity="0.25" filter="url(#b2)"/>
<rect x="395.00" y="56.50" width="13.30" height="4.20" rx="1.5" fill="#3a3a3a" opacity="1" filter="url(#b08)"/>
<rect x="395.00" y="59.50" width="13.30" height="4.00" rx="2.0" fill="#888" opacity="0.35" filter="url(#b12)"/>
<rect x="395.00" y="96.40" width="13.30" height="1.80" rx="0.9" fill="#999" opacity="0.4" filter="url(#b08)"/>
<rect x="395.00" y="101.50" width="13.30" height="1.60" rx="0.8" fill="#aaa" opacity="0.3" filter="url(#b08)"/>
<rect x="395.00" y="108.40" width="13.30" height="2.20" rx="1.1" fill="#888" opacity="0.5" filter="url(#b08)"/>
<rect x="395.00" y="112.30" width="13.30" height="1.60" rx="0.8" fill="#aaa" opacity="0.3" filter="url(#b08)"/>
<rect x="395.00" y="75.00" width="13.30" height="10.00" rx="5.0" fill="#ccc" opacity="0.25" filter="url(#b2)"/>
<rect x="411.30" y="56.50" width="12.30" height="4.20" rx="1.5" fill="#3a3a3a" opacity="1" filter="url(#b08)"/>
<rect x="411.30" y="59.50" width="12.30" height="4.00" rx="2.0" fill="#888" opacity="0.35" filter="url(#b12)"/>
<rect x="411.30" y="96.40" width="12.30" height="1.80" rx="0.9" fill="#999" opacity="0.4" filter="url(#b08)"/>
<rect x="411.30" y="101.50" width="12.30" height="1.60" rx="0.8" fill="#aaa" opacity="0.3" filter="url(#b08)"/>
<rect x="411.30" y="108.40" width="12.30" height="2.20" rx="1.1" fill="#888" opacity="0.5" filter="url(#b08)"/>
<rect x="411.30" y="112.30" width="12.30" height="1.60" rx="0.8" fill="#aaa" opacity="0.3" filter="url(#b08)"/>
<rect x="411.30" y="75.00" width="12.30" height="10.00" rx="5.0" fill="#ccc" opacity="0.25" filter="url(#b2)"/>
<rect x="360.40" y="91.40" width="13.10" height="1.80" rx="0.9" fill="#999" opacity="0.45" filter="url(#b08)"/>
<rect x="357.5" y="41.0" width="67.5" height="88.1" fill="none" stroke="#111" stroke-width="1.3"/>
<rect x="430.9" y="41.6" width="64.20000000000005" height="87.4" fill="#f3f3f3"/>
<rect x="434.0" y="41.6" width="13.0" height="87.4" fill="#eaeaea" filter="url(#b08)"/>
<rect x="449.5" y="41.6" width="12.5" height="87.4" fill="#eaeaea" filter="url(#b08)"/>
<rect x="464.5" y="41.6" width="13.5" height="87.4" fill="#eaeaea" filter="url(#b08)"/>
<rect x="480.5" y="41.6" width="13.0" height="87.4" fill="#eaeaea" filter="url(#b08)"/>
<rect x="434.30" y="58.30" width="12.40" height="4.20" rx="1.8" fill="#222" opacity="1" filter="url(#b08)"/>
<rect x="434.00" y="62.50" width="13.00" height="4.00" rx="2.0" fill="#777" opacity="0.4" filter="url(#b12)"/>
<rect x="434.00" y="66.10" width="13.00" height="1.80" rx="0.9" fill="#777" opacity="0.22" filter="url(#b08)"/>
<rect x="434.00" y="74.90" width="13.00" height="1.80" rx="0.9" fill="#777" opacity="0.22" filter="url(#b08)"/>
<rect x="434.00" y="79.70" width="13.00" height="1.80" rx="0.9" fill="#777" opacity="0.2" filter="url(#b08)"/>
<rect x="434.00" y="88.40" width="13.00" height="1.80" rx="0.9" fill="#777" opacity="0.4" filter="url(#b08)"/>
<rect x="434.00" y="94.10" width="13.00" height="1.80" rx="0.9" fill="#777" opacity="0.2" filter="url(#b08)"/>
<rect x="434.00" y="99.10" width="13.00" height="1.80" rx="0.9" fill="#777" opacity="0.2" filter="url(#b08)"/>
<rect x="434.00" y="103.90" width="13.00" height="1.80" rx="0.9" fill="#777" opacity="0.2" filter="url(#b08)"/>
<rect x="434.00" y="107.80" width="13.00" height="1.80" rx="0.9" fill="#777" opacity="0.2" filter="url(#b08)"/>
<rect x="434.00" y="113.60" width="13.00" height="1.80" rx="0.9" fill="#777" opacity="0.22" filter="url(#b08)"/>
<rect x="434.00" y="120.30" width="13.00" height="1.80" rx="0.9" fill="#777" opacity="0.2" filter="url(#b08)"/>
<rect x="449.50" y="58.70" width="12.50" height="3.40" rx="1" fill="#555" opacity="0.5" filter="url(#b08)"/>
<rect x="449.50" y="74.00" width="12.50" height="3.60" rx="1.8" fill="#999" opacity="0.32" filter="url(#b12)"/>
<rect x="449.50" y="79.20" width="12.50" height="2.60" rx="1.3" fill="#aaa" opacity="0.2" filter="url(#b12)"/>
<rect x="449.50" y="109.80" width="12.50" height="3.60" rx="1" fill="#777" opacity="0.55" filter="url(#b08)"/>
<rect x="449.50" y="119.50" width="12.50" height="1.80" rx="0.9" fill="#999" opacity="0.4" filter="url(#b08)"/>
<rect x="449.50" y="88.00" width="12.50" height="8.00" rx="4.0" fill="#bbb" opacity="0.22" filter="url(#b2)"/>
<rect x="464.50" y="58.70" width="13.50" height="3.40" rx="1" fill="#555" opacity="0.32" filter="url(#b08)"/>
<rect x="464.50" y="74.00" width="13.50" height="3.60" rx="1.8" fill="#999" opacity="0.32" filter="url(#b12)"/>
<rect x="464.50" y="79.20" width="13.50" height="2.60" rx="1.3" fill="#aaa" opacity="0.2" filter="url(#b12)"/>
<rect x="464.50" y="109.80" width="13.50" height="3.60" rx="1" fill="#777" opacity="0.55" filter="url(#b08)"/>
<rect x="464.50" y="119.50" width="13.50" height="1.80" rx="0.9" fill="#999" opacity="0.4" filter="url(#b08)"/>
<rect x="464.50" y="88.00" width="13.50" height="8.00" rx="4.0" fill="#bbb" opacity="0.22" filter="url(#b2)"/>
<rect x="480.50" y="58.70" width="13.00" height="3.40" rx="1" fill="#555" opacity="0.1" filter="url(#b08)"/>
<rect x="480.50" y="74.00" width="13.00" height="3.60" rx="1.8" fill="#999" opacity="0.32" filter="url(#b12)"/>
<rect x="480.50" y="79.20" width="13.00" height="2.60" rx="1.3" fill="#aaa" opacity="0.2" filter="url(#b12)"/>
<rect x="480.50" y="109.80" width="13.00" height="3.60" rx="1" fill="#777" opacity="0.55" filter="url(#b08)"/>
<rect x="480.50" y="119.50" width="13.00" height="1.80" rx="0.9" fill="#999" opacity="0.4" filter="url(#b08)"/>
<rect x="480.50" y="88.00" width="13.00" height="8.00" rx="4.0" fill="#bbb" opacity="0.22" filter="url(#b2)"/>
<rect x="480.50" y="84.90" width="13.00" height="3.00" rx="1.5" fill="#aaa" opacity="0.25" filter="url(#b12)"/>
<rect x="430.9" y="41.6" width="64.20000000000005" height="87.4" fill="none" stroke="#111" stroke-width="1.3"/>
<text x="366.10" y="38.00" font-size="7.3" text-anchor="middle" fill="#1a1a1a" color="#1a1a1a" stroke-width="0.18" stroke="currentColor" >0</text>
<text x="383.50" y="38.00" font-size="7.3" text-anchor="middle" fill="#1a1a1a" color="#1a1a1a" stroke-width="0.18" stroke="currentColor" >30</text>
<text x="400.00" y="38.00" font-size="7.3" text-anchor="middle" fill="#1a1a1a" color="#1a1a1a" stroke-width="0.18" stroke="currentColor" >60</text>
<text x="417.40" y="38.00" font-size="7.3" text-anchor="middle" fill="#1a1a1a" color="#1a1a1a" stroke-width="0.18" stroke="currentColor" >120</text>
<text x="436.60" y="38.00" font-size="7.3" text-anchor="middle" fill="#1a1a1a" color="#1a1a1a" stroke-width="0.18" stroke="currentColor" >0</text>
<text x="454.00" y="38.00" font-size="7.3" text-anchor="middle" fill="#1a1a1a" color="#1a1a1a" stroke-width="0.18" stroke="currentColor" >30</text>
<text x="470.90" y="38.00" font-size="7.3" text-anchor="middle" fill="#1a1a1a" color="#1a1a1a" stroke-width="0.18" stroke="currentColor" >60</text>
<text x="487.90" y="38.00" font-size="7.3" text-anchor="middle" fill="#1a1a1a" color="#1a1a1a" stroke-width="0.18" stroke="currentColor" >120</text>
<text x="392.00" y="25.10" font-size="8.9" text-anchor="middle" fill="#1a1a1a" color="#1a1a1a" stroke-width="0.18" stroke="currentColor" textLength="28.7" lengthAdjust="spacingAndGlyphs" >Control</text>
<text x="462.50" y="25.10" font-size="8.9" text-anchor="middle" fill="#1a1a1a" color="#1a1a1a" stroke-width="0.18" stroke="currentColor" textLength="19.0" lengthAdjust="spacingAndGlyphs" >+PEI</text>
<text x="391.00" y="141.30" font-size="8.4" text-anchor="middle" fill="#1a1a1a" color="#1a1a1a" stroke-width="0.18" stroke="currentColor" style="stroke-width:0.22px" textLength="30.5" lengthAdjust="spacingAndGlyphs" >Time (min)</text>
<text x="462.50" y="141.30" font-size="8.4" text-anchor="middle" fill="#1a1a1a" color="#1a1a1a" stroke-width="0.18" stroke="currentColor" style="stroke-width:0.22px" textLength="30.5" lengthAdjust="spacingAndGlyphs" >Time (min)</text>
<path d="M495.6,57.6 L499.6,55.4 L499.6,59.800000000000004 Z" fill="#111"/>
<text x="501.40" y="60.60" font-size="8.6" text-anchor="start" fill="#1a1a1a" color="#1a1a1a" stroke-width="0.18" stroke="currentColor" >Z</text>
<path d="M495.6,75.4 L499.6,73.2 L499.6,77.60000000000001 Z" fill="#111"/>
<text x="501.40" y="78.40" font-size="8.6" text-anchor="start" fill="#1a1a1a" color="#1a1a1a" stroke-width="0.18" stroke="currentColor" >HC</text>
<path d="M495.6,110.0 L499.6,107.8 L499.6,112.2 Z" fill="#111"/>
<text x="501.40" y="113.00" font-size="8.6" text-anchor="start" fill="#1a1a1a" color="#1a1a1a" stroke-width="0.18" stroke="currentColor" >LC</text>
<text x="120.70" y="182.40" font-size="8.9" text-anchor="middle" fill="#1a1a1a" color="#1a1a1a" stroke-width="0.18" stroke="currentColor" textLength="108.4" lengthAdjust="spacingAndGlyphs" >Coomassie blue stained gel</text>
<path d="M22.4,214.9 H25.7" stroke="#111" stroke-width="1"/>
<text x="19.90" y="217.40" font-size="7.6" text-anchor="end" fill="#1a1a1a" color="#1a1a1a" stroke-width="0.18" stroke="currentColor" >100</text>
<path d="M22.4,228.9 H25.7" stroke="#111" stroke-width="1"/>
<text x="19.90" y="231.40" font-size="7.6" text-anchor="end" fill="#1a1a1a" color="#1a1a1a" stroke-width="0.18" stroke="currentColor" >75</text>
<path d="M22.4,255.8 H25.7" stroke="#111" stroke-width="1"/>
<text x="19.90" y="258.30" font-size="7.6" text-anchor="end" fill="#1a1a1a" color="#1a1a1a" stroke-width="0.18" stroke="currentColor" >50</text>
<path d="M22.4,281.5 H25.7" stroke="#111" stroke-width="1"/>
<text x="19.90" y="284.00" font-size="7.6" text-anchor="end" fill="#1a1a1a" color="#1a1a1a" stroke-width="0.18" stroke="currentColor" >37</text>
<rect x="25.6" y="209.9" width="52.9" height="81.70000000000002" fill="#f7f7f7"/>
<rect x="82.7" y="210.0" width="133.3" height="81.60000000000002" fill="#f6f6f6"/>
<rect x="29" y="209.9" width="21" height="81.70000000000002" fill="#f3f3f3" filter="url(#b08)"/>
<rect x="55" y="209.9" width="21" height="81.70000000000002" fill="#f3f3f3" filter="url(#b08)"/>
<rect x="86" y="210.0" width="20" height="81.60000000000002" fill="#eeeeee" filter="url(#b08)"/>
<rect x="112" y="210.0" width="19" height="81.60000000000002" fill="#eeeeee" filter="url(#b08)"/>
<rect x="137" y="210.0" width="21" height="81.60000000000002" fill="#eeeeee" filter="url(#b08)"/>
<rect x="164" y="210.0" width="19" height="81.60000000000002" fill="#eeeeee" filter="url(#b08)"/>
<rect x="190" y="210.0" width="23" height="81.60000000000002" fill="#eeeeee" filter="url(#b08)"/>
<rect x="29.60" y="230.90" width="20.00" height="9.00" rx="2" fill="#666" opacity="0.5" filter="url(#b08)"/>
<rect x="29.90" y="231.20" width="19.40" height="6.40" rx="3.2" fill="#060606" filter="url(#b05)"/>
<rect x="56.30" y="229.30" width="19.60" height="9.60" rx="2" fill="#666" opacity="0.5" filter="url(#b08)"/>
<rect x="56.60" y="229.60" width="19.00" height="7.00" rx="1.8" fill="url(#cg)" filter="url(#b05)"/>
<rect x="57" y="236" width="18" height="10" fill="#ccc" opacity="0.6" filter="url(#b2)"/>
<rect x="85.90" y="223.50" width="19.70" height="10.40" rx="2" fill="#666" opacity="0.5" filter="url(#b08)"/>
<rect x="86.20" y="223.80" width="19.10" height="7.80" rx="1.8" fill="url(#cg)" filter="url(#b05)"/>
<rect x="87" y="230" width="18" height="8" fill="#aaa" opacity="0.45" filter="url(#b2)"/>
<rect x="113.50" y="226.30" width="16.90" height="9.40" rx="2" fill="#666" opacity="0.5" filter="url(#b08)"/>
<rect x="113.80" y="226.60" width="16.30" height="6.80" rx="1.8" fill="url(#cg)" filter="url(#b05)"/>
<rect x="137.80" y="226.80" width="19.50" height="8.80" rx="2" fill="#666" opacity="0.5" filter="url(#b08)"/>
<rect x="138.10" y="227.10" width="18.90" height="6.20" rx="1.8" fill="url(#cg)" filter="url(#b05)"/>
<rect x="164.70" y="227.40" width="17.10" height="9.40" rx="2" fill="#666" opacity="0.5" filter="url(#b08)"/>
<rect x="165.00" y="227.70" width="16.50" height="6.80" rx="1.8" fill="url(#cg)" filter="url(#b05)"/>
<rect x="167" y="233" width="13" height="9" fill="#999" opacity="0.45" filter="url(#b2)"/>
<rect x="191.20" y="239.50" width="21.20" height="8.60" rx="2" fill="#666" opacity="0.5" filter="url(#b08)"/>
<rect x="191.50" y="239.80" width="20.60" height="6.00" rx="1.8" fill="url(#cg)" filter="url(#b05)"/>
<circle cx="188.7" cy="242.5" r="0.8" fill="#888" filter="url(#b05)"/>
<rect x="87" y="240" width="18" height="50" fill="#e4e4e4" opacity="0.7" filter="url(#b12)"/>
<rect x="191" y="212" width="21" height="28" fill="#e6e6e6" opacity="0.8" filter="url(#b12)"/>
<rect x="25.6" y="209.9" width="52.9" height="81.70000000000002" fill="none" stroke="#111" stroke-width="1.3"/>
<rect x="82.7" y="210.0" width="133.3" height="81.60000000000002" fill="none" stroke="#111" stroke-width="1.3"/>
<text transform="translate(38.90,206.60) rotate(-45)" font-size="7.4" fill="#1a1a1a" stroke-width="0.18" stroke="currentColor">FXII</text>
<text transform="translate(63.50,206.60) rotate(-45)" font-size="7.4" fill="#1a1a1a" stroke-width="0.18" stroke="currentColor">FN2</text>
<text transform="translate(92.30,206.60) rotate(-45)" font-size="7.4" fill="#1a1a1a" stroke-width="0.18" stroke="currentColor">EGF1</text>
<text transform="translate(120.20,206.60) rotate(-45)" font-size="7.4" fill="#1a1a1a" stroke-width="0.18" stroke="currentColor">FN1</text>
<text transform="translate(145.20,206.60) rotate(-45)" font-size="7.4" fill="#1a1a1a" stroke-width="0.18" stroke="currentColor">EGF2</text>
<text transform="translate(170.20,206.60) rotate(-45)" font-size="7.4" fill="#1a1a1a" stroke-width="0.18" stroke="currentColor">KNG</text>
<text transform="translate(198.50,206.60) rotate(-45)" font-size="7.4" fill="#1a1a1a" stroke-width="0.18" stroke="currentColor">PRR</text>
<text x="388.80" y="182.20" font-size="8.9" text-anchor="middle" fill="#1a1a1a" color="#1a1a1a" stroke-width="0.18" stroke="currentColor" textLength="51.3" lengthAdjust="spacingAndGlyphs" >Western blot</text>
<path d="M291.6,214.9 H295.7" stroke="#111" stroke-width="1"/>
<text x="290.00" y="217.40" font-size="7.6" text-anchor="end" fill="#1a1a1a" color="#1a1a1a" stroke-width="0.18" stroke="currentColor" >100</text>
<path d="M291.6,228.6 H295.7" stroke="#111" stroke-width="1"/>
<text x="290.00" y="231.10" font-size="7.6" text-anchor="end" fill="#1a1a1a" color="#1a1a1a" stroke-width="0.18" stroke="currentColor" >75</text>
<path d="M291.6,256.0 H295.7" stroke="#111" stroke-width="1"/>
<text x="290.00" y="258.50" font-size="7.6" text-anchor="end" fill="#1a1a1a" color="#1a1a1a" stroke-width="0.18" stroke="currentColor" >50</text>
<path d="M291.6,281.3 H295.7" stroke="#111" stroke-width="1"/>
<text x="290.00" y="283.80" font-size="7.6" text-anchor="end" fill="#1a1a1a" color="#1a1a1a" stroke-width="0.18" stroke="currentColor" >37</text>
<rect x="295.7" y="209.9" width="48.19999999999999" height="81.79999999999998" fill="#fbfbfb"/>
<rect x="348.5" y="210.0" width="132.8" height="81.60000000000002" fill="#f9f9f9"/>
<rect x="321" y="244" width="20" height="46" fill="#f2f2f2" opacity="0.8" filter="url(#b12)"/>
<rect x="379" y="256" width="15" height="34" fill="#e2e2e2" opacity="0.5" filter="url(#b2)"/>
<rect x="380" y="257" width="11" height="9" fill="#d4d4d4" opacity="0.4" filter="url(#b12)"/>
<rect x="381" y="275" width="10" height="9" fill="#dadada" opacity="0.3" filter="url(#b12)"/>
<ellipse cx="386.6" cy="243" rx="6" ry="2.6" fill="#777" opacity="0.6" filter="url(#b08)"/>
<ellipse cx="413.5" cy="241" rx="7" ry="2.5" fill="#bbb" opacity="0.4" filter="url(#b12)"/>
<path d="M301.90,237.30 Q301.90,234.30 304.90,234.30 Q309.95,235.10 315.00,234.30 Q318.00,234.30 318.00,237.30 L318.00,238.80 Q318.00,241.80 315.00,241.80 Q309.95,240.60 304.90,241.80 Q301.90,241.80 301.90,238.80 Z" fill="#000" filter="url(#b05)"/>
<path d="M319.90,235.10 Q319.90,231.60 323.40,231.60 Q331.05,232.60 338.70,231.60 Q342.20,231.60 342.20,235.10 L342.20,238.40 Q342.20,241.90 338.70,241.90 Q331.05,240.90 323.40,241.90 Q319.90,241.90 319.90,238.40 Z" fill="#000" filter="url(#b05)"/>
<path d="M350.80,228.40 Q350.80,225.40 353.80,225.40 Q359.25,226.60 364.70,225.40 Q367.70,225.40 367.70,228.40 L367.70,229.80 Q367.70,232.80 364.70,232.80 Q359.25,231.60 353.80,232.80 Q350.80,232.80 350.80,229.80 Z" fill="#000" filter="url(#b05)"/>
<path d="M377.20,231.20 Q377.20,228.40 380.00,228.40 Q386.55,229.40 393.10,228.40 Q395.90,228.40 395.90,231.20 L394.30,240.80 Q394.30,243.60 391.50,243.60 Q386.55,240.20 381.60,243.60 Q378.80,243.60 378.80,240.80 Z" fill="#000" filter="url(#b05)"/>
<path d="M404.20,229.80 Q404.20,226.80 407.20,226.80 Q413.50,228.60 419.80,226.80 Q422.80,226.80 422.80,229.80 L422.80,237.20 Q422.80,240.20 419.80,240.20 Q413.50,238.20 407.20,240.20 Q404.20,240.20 404.20,237.20 Z" fill="#000" filter="url(#b05)"/>
<path d="M431.70,232.30 Q431.70,229.30 434.70,229.30 Q440.45,231.10 446.20,229.30 Q449.20,229.30 449.20,232.30 L449.20,236.00 Q449.20,239.00 446.20,239.00 Q440.45,237.20 434.70,239.00 Q431.70,239.00 431.70,236.00 Z" fill="#000" filter="url(#b05)"/>
<path d="M458.90,241.40 Q458.90,238.90 461.40,238.90 Q467.65,239.90 473.90,238.90 Q476.40,238.90 476.40,241.40 L476.40,243.90 Q476.40,246.40 473.90,246.40 Q467.65,245.40 461.40,246.40 Q458.90,246.40 458.90,243.90 Z" fill="#000" filter="url(#b05)"/>
<circle cx="427" cy="232.6" r="1" fill="#777" filter="url(#b05)"/>
<rect x="295.7" y="209.9" width="48.19999999999999" height="81.79999999999998" fill="none" stroke="#111" stroke-width="1.3"/>
<rect x="348.5" y="210.0" width="132.8" height="81.60000000000002" fill="none" stroke="#111" stroke-width="1.3"/>
<text transform="translate(304.40,206.60) rotate(-45)" font-size="7.4" fill="#1a1a1a" stroke-width="0.18" stroke="currentColor">FXII</text>
<text transform="translate(328.90,206.60) rotate(-45)" font-size="7.4" fill="#1a1a1a" stroke-width="0.18" stroke="currentColor">FN2</text>
<text transform="translate(358.30,206.60) rotate(-45)" font-size="7.4" fill="#1a1a1a" stroke-width="0.18" stroke="currentColor">EGF1</text>
<text transform="translate(385.70,206.60) rotate(-45)" font-size="7.4" fill="#1a1a1a" stroke-width="0.18" stroke="currentColor">FN1</text>
<text transform="translate(410.70,206.60) rotate(-45)" font-size="7.4" fill="#1a1a1a" stroke-width="0.18" stroke="currentColor">EGF2</text>
<text transform="translate(435.70,206.60) rotate(-45)" font-size="7.4" fill="#1a1a1a" stroke-width="0.18" stroke="currentColor">KNG</text>
<text transform="translate(464.30,206.60) rotate(-45)" font-size="7.4" fill="#1a1a1a" stroke-width="0.18" stroke="currentColor">PRR</text>
<path d="M35.5,317.3 V432.5 H154.0" fill="none" stroke="#111" stroke-width="1"/>
<path d="M32.5,432.50 H35.5" stroke="#111" stroke-width="1"/>
<text x="29.30" y="434.70" font-size="7.3" text-anchor="end" fill="#1a1a1a" color="#1a1a1a" stroke-width="0.18" stroke="currentColor" >0.0</text>
<path d="M32.5,395.30 H35.5" stroke="#111" stroke-width="1"/>
<text x="29.30" y="397.50" font-size="7.3" text-anchor="end" fill="#1a1a1a" color="#1a1a1a" stroke-width="0.18" stroke="currentColor" >0.2</text>
<path d="M32.5,358.10 H35.5" stroke="#111" stroke-width="1"/>
<text x="29.30" y="360.30" font-size="7.3" text-anchor="end" fill="#1a1a1a" color="#1a1a1a" stroke-width="0.18" stroke="currentColor" >0.4</text>
<path d="M32.5,320.90 H35.5" stroke="#111" stroke-width="1"/>
<text x="29.30" y="323.10" font-size="7.3" text-anchor="end" fill="#1a1a1a" color="#1a1a1a" stroke-width="0.18" stroke="currentColor" >0.6</text>
<text x="35.50" y="444.10" font-size="7.3" text-anchor="middle" fill="#1a1a1a" color="#1a1a1a" stroke-width="0.18" stroke="currentColor" >0</text>
<path d="M54.80,432.5 V435.5" stroke="#111" stroke-width="1"/>
<text x="54.80" y="444.10" font-size="7.3" text-anchor="middle" fill="#1a1a1a" color="#1a1a1a" stroke-width="0.18" stroke="currentColor" >30</text>
<path d="M74.10,432.5 V435.5" stroke="#111" stroke-width="1"/>
<text x="74.10" y="444.10" font-size="7.3" text-anchor="middle" fill="#1a1a1a" color="#1a1a1a" stroke-width="0.18" stroke="currentColor" >60</text>
<path d="M112.70,432.5 V435.5" stroke="#111" stroke-width="1"/>
<text x="112.70" y="444.10" font-size="7.3" text-anchor="middle" fill="#1a1a1a" color="#1a1a1a" stroke-width="0.18" stroke="currentColor" >120</text>
<path d="M151.30,432.5 V435.5" stroke="#111" stroke-width="1"/>
<text x="151.30" y="444.10" font-size="7.3" text-anchor="middle" fill="#1a1a1a" color="#1a1a1a" stroke-width="0.18" stroke="currentColor" >180</text>
<text x="96.50" y="456.80" font-size="8.4" text-anchor="middle" fill="#1a1a1a" color="#1a1a1a" stroke-width="0.18" stroke="currentColor" style="stroke-width:0.22px" textLength="31" lengthAdjust="spacingAndGlyphs" >Time (min)</text>
<text transform="translate(13.40,376.60) rotate(-90) scale(0.772,1)" font-size="8.4" text-anchor="middle" fill="#1a1a1a" stroke-width="0.18" stroke="currentColor" style="stroke-width:0.22px">OD (405 nm)</text>
<path d="M35.50,419.44 L36.13,419.38 L36.75,419.37 L37.38,419.25 L38.00,419.15 L38.63,419.10 L39.25,419.06 L39.88,419.01 L40.50,418.95 L41.13,418.93 L41.75,418.85 L42.38,418.79 L43.01,418.75 L43.63,418.70 L44.26,418.66 L44.88,418.66 L45.51,418.67 L46.13,418.63 L46.76,418.59 L47.38,418.61 L48.01,418.56 L48.63,418.58 L49.26,418.49 L49.89,418.45 L50.51,418.36 L51.14,418.21 L51.76,418.17 L52.39,418.08 L53.01,418.08 L53.64,418.01 L54.26,418.00 L54.89,417.96 L55.51,417.80 L56.14,417.69 L56.77,417.68 L57.39,417.65 L58.02,417.63 L58.64,417.65 L59.27,417.68 L59.89,417.68 L60.52,417.60 L61.14,417.56 L61.77,417.41 L62.39,417.33 L63.02,417.21 L63.65,417.20 L64.27,417.09 L64.90,416.95 L65.52,416.95 L66.15,416.95 L66.77,416.97 L67.40,416.93 L68.02,416.97 L68.65,416.99 L69.28,416.97 L69.90,416.90 L70.53,416.88 L71.15,416.78 L71.78,416.72 L72.40,416.65 L73.03,416.59 L73.65,416.51 L74.28,416.44 L74.90,416.46 L75.53,416.39 L76.16,416.38 L76.78,416.33 L77.41,416.38 L78.03,416.34 L78.66,416.32 L79.28,416.24 L79.91,416.19 L80.53,416.17 L81.16,416.02 L81.78,415.91 L82.41,415.84 L83.04,415.82 L83.66,415.82 L84.29,415.78 L84.91,415.80 L85.54,415.79 L86.16,415.71 L86.79,415.66 L87.41,415.58 L88.04,415.54 L88.66,415.51 L89.29,415.49 L89.92,415.49 L90.54,415.44 L91.17,415.31 L91.79,415.15 L92.42,415.00 L93.04,414.91 L93.67,414.77 L94.29,414.67 L94.92,414.67 L95.54,414.70 L96.17,414.78 L96.80,414.81 L97.42,414.74 L98.05,414.82 L98.67,414.76 L99.30,414.73 L99.92,414.62 L100.55,414.55 L101.17,414.54 L101.80,414.47 L102.42,414.44 L103.05,414.46 L103.68,414.34 L104.30,414.31 L104.93,414.22 L105.55,414.17 L106.18,414.05 L106.80,413.90 L107.43,413.89 L108.05,413.84 L108.68,413.81 L109.30,413.75 L109.93,413.78 L110.56,413.78 L111.18,413.73 L111.81,413.63 L112.43,413.56 L113.06,413.47 L113.68,413.39 L114.31,413.35 L114.93,413.33 L115.56,413.40 L116.18,413.45 L116.81,413.46 L117.44,413.43 L118.06,413.38 L118.69,413.30 L119.31,413.15 L119.94,413.03 L120.56,412.94 L121.19,412.91 L121.81,412.87 L122.44,412.81 L123.06,412.84 L123.69,412.88 L124.32,412.83 L124.94,412.73 L125.57,412.62 L126.19,412.58 L126.82,412.57 L127.44,412.47 L128.07,412.39 L128.69,412.34 L129.32,412.27 L129.94,412.28 L130.57,412.14 L131.20,412.15 L131.82,412.13 L132.45,412.14 L133.07,412.13 L133.70,412.05 L134.32,412.08 L134.95,411.98 L135.57,411.91 L136.20,411.79 L136.82,411.80 L137.45,411.79 L138.08,411.70 L138.70,411.61 L139.33,411.59 L139.95,411.59 L140.58,411.50 L141.20,411.45 L141.83,411.34 L142.45,411.39 L143.08,411.26 L143.71,411.24 L144.33,411.25 L144.96,411.20 L145.58,411.24 L146.21,411.16 L146.83,411.21 L147.46,411.18 L148.08,411.11" fill="none" stroke="#7b4a26" stroke-width="1.4" stroke-linejoin="round" opacity="1"/>
<path d="M35.50,416.69 L36.13,416.68 L36.75,416.67 L37.38,416.66 L38.00,416.65 L38.63,416.64 L39.25,416.63 L39.88,416.62 L40.50,416.62 L41.13,416.61 L41.75,416.60 L42.38,416.59 L43.01,416.58 L43.63,416.57 L44.26,416.56 L44.88,416.55 L45.51,416.54 L46.13,416.53 L46.76,416.52 L47.38,416.51 L48.01,416.50 L48.63,416.49 L49.26,416.49 L49.89,416.48 L50.51,416.47 L51.14,416.46 L51.76,416.45 L52.39,416.44 L53.01,416.43 L53.64,416.42 L54.26,416.41 L54.89,416.40 L55.51,416.39 L56.14,416.38 L56.77,416.37 L57.39,416.36 L58.02,416.36 L58.64,416.35 L59.27,416.34 L59.89,416.33 L60.52,416.32 L61.14,416.31 L61.77,416.30 L62.39,416.29 L63.02,416.28 L63.65,416.27 L64.27,416.26 L64.90,416.25 L65.52,416.24 L66.15,416.23 L66.77,416.23 L67.40,416.22 L68.02,416.21 L68.65,416.20 L69.28,416.19 L69.90,416.18 L70.53,416.17 L71.15,416.16 L71.78,416.15 L72.40,416.14 L73.03,416.13 L73.65,416.12 L74.28,416.11 L74.90,416.10 L75.53,416.09 L76.16,416.09 L76.78,416.08 L77.41,416.07 L78.03,416.06 L78.66,416.05 L79.28,416.04 L79.91,416.03 L80.53,416.02 L81.16,416.01 L81.78,416.00 L82.41,415.99 L83.04,415.98 L83.66,415.97 L84.29,415.96 L84.91,415.96 L85.54,415.95 L86.16,415.94 L86.79,415.93 L87.41,415.92 L88.04,415.91 L88.66,415.90 L89.29,415.89 L89.92,415.88 L90.54,415.87 L91.17,415.86 L91.79,415.85 L92.42,415.84 L93.04,415.83 L93.67,415.83 L94.29,415.82 L94.92,415.81 L95.54,415.80 L96.17,415.79 L96.80,415.78 L97.42,415.77 L98.05,415.76 L98.67,415.75 L99.30,415.74 L99.92,415.73 L100.55,415.72 L101.17,415.71 L101.80,415.70 L102.42,415.69 L103.05,415.69 L103.68,415.68 L104.30,415.67 L104.93,415.66 L105.55,415.65 L106.18,415.64 L106.80,415.63 L107.43,415.62 L108.05,415.61 L108.68,415.60 L109.30,415.59 L109.93,415.58 L110.56,415.57 L111.18,415.56 L111.81,415.56 L112.43,415.55 L113.06,415.54 L113.68,415.53 L114.31,415.52 L114.93,415.51 L115.56,415.50 L116.18,415.49 L116.81,415.48 L117.44,415.47 L118.06,415.46 L118.69,415.45 L119.31,415.44 L119.94,415.43 L120.56,415.43 L121.19,415.42 L121.81,415.41 L122.44,415.40 L123.06,415.39 L123.69,415.38 L124.32,415.37 L124.94,415.36 L125.57,415.35 L126.19,415.34 L126.82,415.33 L127.44,415.32 L128.07,415.31 L128.69,415.30 L129.32,415.30 L129.94,415.29 L130.57,415.28 L131.20,415.27 L131.82,415.26 L132.45,415.25 L133.07,415.24 L133.70,415.23 L134.32,415.22 L134.95,415.21 L135.57,415.20 L136.20,415.19 L136.82,415.18 L137.45,415.17 L138.08,415.16 L138.70,415.16 L139.33,415.15 L139.95,415.14 L140.58,415.13 L141.20,415.12 L141.83,415.11 L142.45,415.10 L143.08,415.09 L143.71,415.08 L144.33,415.07 L144.96,415.06 L145.58,415.05 L146.21,415.04 L146.83,415.03 L147.46,415.03 L148.08,415.02" fill="none" stroke="#24609a" stroke-width="2.0" stroke-linejoin="round" stroke-dasharray="3.2 1.8" opacity="1"/>
<path d="M35.50,417.62 L36.13,417.60 L36.75,417.58 L37.38,417.57 L38.00,417.55 L38.63,417.53 L39.25,417.51 L39.88,417.50 L40.50,417.48 L41.13,417.46 L41.75,417.44 L42.38,417.43 L43.01,417.41 L43.63,417.39 L44.26,417.37 L44.88,417.36 L45.51,417.34 L46.13,417.32 L46.76,417.30 L47.38,417.29 L48.01,417.27 L48.63,417.25 L49.26,417.23 L49.89,417.22 L50.51,417.20 L51.14,417.18 L51.76,417.16 L52.39,417.15 L53.01,417.13 L53.64,417.11 L54.26,417.09 L54.89,417.08 L55.51,417.06 L56.14,417.04 L56.77,417.02 L57.39,417.01 L58.02,416.99 L58.64,416.97 L59.27,416.95 L59.89,416.93 L60.52,416.92 L61.14,416.90 L61.77,416.88 L62.39,416.86 L63.02,416.85 L63.65,416.83 L64.27,416.81 L64.90,416.79 L65.52,416.78 L66.15,416.76 L66.77,416.74 L67.40,416.72 L68.02,416.71 L68.65,416.69 L69.28,416.67 L69.90,416.65 L70.53,416.64 L71.15,416.62 L71.78,416.60 L72.40,416.58 L73.03,416.57 L73.65,416.55 L74.28,416.53 L74.90,416.51 L75.53,416.50 L76.16,416.48 L76.78,416.46 L77.41,416.44 L78.03,416.43 L78.66,416.41 L79.28,416.39 L79.91,416.37 L80.53,416.36 L81.16,416.34 L81.78,416.32 L82.41,416.30 L83.04,416.28 L83.66,416.27 L84.29,416.25 L84.91,416.23 L85.54,416.21 L86.16,416.20 L86.79,416.18 L87.41,416.16 L88.04,416.14 L88.66,416.13 L89.29,416.11 L89.92,416.09 L90.54,416.07 L91.17,416.06 L91.79,416.04 L92.42,416.02 L93.04,416.00 L93.67,415.99 L94.29,415.97 L94.92,415.95 L95.54,415.93 L96.17,415.92 L96.80,415.90 L97.42,415.88 L98.05,415.86 L98.67,415.85 L99.30,415.83 L99.92,415.81 L100.55,415.79 L101.17,415.78 L101.80,415.76 L102.42,415.74 L103.05,415.72 L103.68,415.71 L104.30,415.69 L104.93,415.67 L105.55,415.65 L106.18,415.63 L106.80,415.62 L107.43,415.60 L108.05,415.58 L108.68,415.56 L109.30,415.55 L109.93,415.53 L110.56,415.51 L111.18,415.49 L111.81,415.48 L112.43,415.46 L113.06,415.44 L113.68,415.42 L114.31,415.41 L114.93,415.39 L115.56,415.37 L116.18,415.35 L116.81,415.34 L117.44,415.32 L118.06,415.30 L118.69,415.28 L119.31,415.27 L119.94,415.25 L120.56,415.23 L121.19,415.21 L121.81,415.20 L122.44,415.18 L123.06,415.16 L123.69,415.14 L124.32,415.13 L124.94,415.11 L125.57,415.09 L126.19,415.07 L126.82,415.06 L127.44,415.04 L128.07,415.02 L128.69,415.00 L129.32,414.99 L129.94,414.97 L130.57,414.95 L131.20,414.93 L131.82,414.91 L132.45,414.90 L133.07,414.88 L133.70,414.86 L134.32,414.84 L134.95,414.83 L135.57,414.81 L136.20,414.79 L136.82,414.77 L137.45,414.76 L138.08,414.74 L138.70,414.72 L139.33,414.70 L139.95,414.69 L140.58,414.67 L141.20,414.65 L141.83,414.63 L142.45,414.62 L143.08,414.60 L143.71,414.58 L144.33,414.56 L144.96,414.55 L145.58,414.53 L146.21,414.51 L146.83,414.49 L147.46,414.48 L148.08,414.46" fill="none" stroke="#632c88" stroke-width="2.0" stroke-linejoin="round" stroke-dasharray="3.2 1.8" opacity="0.9"/>
<path d="M35.50,418.36 L36.13,418.35 L36.75,418.33 L37.38,418.31 L38.00,418.29 L38.63,418.28 L39.25,418.26 L39.88,418.24 L40.50,418.22 L41.13,418.21 L41.75,418.19 L42.38,418.17 L43.01,418.15 L43.63,418.14 L44.26,418.12 L44.88,418.10 L45.51,418.08 L46.13,418.07 L46.76,418.05 L47.38,418.03 L48.01,418.01 L48.63,418.00 L49.26,417.98 L49.89,417.96 L50.51,417.94 L51.14,417.92 L51.76,417.91 L52.39,417.89 L53.01,417.87 L53.64,417.85 L54.26,417.84 L54.89,417.82 L55.51,417.80 L56.14,417.78 L56.77,417.77 L57.39,417.75 L58.02,417.73 L58.64,417.71 L59.27,417.70 L59.89,417.68 L60.52,417.66 L61.14,417.64 L61.77,417.63 L62.39,417.61 L63.02,417.59 L63.65,417.57 L64.27,417.56 L64.90,417.54 L65.52,417.52 L66.15,417.50 L66.77,417.49 L67.40,417.47 L68.02,417.45 L68.65,417.43 L69.28,417.42 L69.90,417.40 L70.53,417.38 L71.15,417.36 L71.78,417.35 L72.40,417.33 L73.03,417.31 L73.65,417.29 L74.28,417.27 L74.90,417.26 L75.53,417.24 L76.16,417.22 L76.78,417.20 L77.41,417.19 L78.03,417.17 L78.66,417.15 L79.28,417.13 L79.91,417.12 L80.53,417.10 L81.16,417.08 L81.78,417.06 L82.41,417.05 L83.04,417.03 L83.66,417.01 L84.29,416.99 L84.91,416.98 L85.54,416.96 L86.16,416.94 L86.79,416.92 L87.41,416.91 L88.04,416.89 L88.66,416.87 L89.29,416.85 L89.92,416.84 L90.54,416.82 L91.17,416.80 L91.79,416.78 L92.42,416.77 L93.04,416.75 L93.67,416.73 L94.29,416.71 L94.92,416.70 L95.54,416.68 L96.17,416.66 L96.80,416.64 L97.42,416.62 L98.05,416.61 L98.67,416.59 L99.30,416.57 L99.92,416.55 L100.55,416.54 L101.17,416.52 L101.80,416.50 L102.42,416.48 L103.05,416.47 L103.68,416.45 L104.30,416.43 L104.93,416.41 L105.55,416.40 L106.18,416.38 L106.80,416.36 L107.43,416.34 L108.05,416.33 L108.68,416.31 L109.30,416.29 L109.93,416.27 L110.56,416.26 L111.18,416.24 L111.81,416.22 L112.43,416.20 L113.06,416.19 L113.68,416.17 L114.31,416.15 L114.93,416.13 L115.56,416.12 L116.18,416.10 L116.81,416.08 L117.44,416.06 L118.06,416.05 L118.69,416.03 L119.31,416.01 L119.94,415.99 L120.56,415.97 L121.19,415.96 L121.81,415.94 L122.44,415.92 L123.06,415.90 L123.69,415.89 L124.32,415.87 L124.94,415.85 L125.57,415.83 L126.19,415.82 L126.82,415.80 L127.44,415.78 L128.07,415.76 L128.69,415.75 L129.32,415.73 L129.94,415.71 L130.57,415.69 L131.20,415.68 L131.82,415.66 L132.45,415.64 L133.07,415.62 L133.70,415.61 L134.32,415.59 L134.95,415.57 L135.57,415.55 L136.20,415.54 L136.82,415.52 L137.45,415.50 L138.08,415.48 L138.70,415.47 L139.33,415.45 L139.95,415.43 L140.58,415.41 L141.20,415.40 L141.83,415.38 L142.45,415.36 L143.08,415.34 L143.71,415.32 L144.33,415.31 L144.96,415.29 L145.58,415.27 L146.21,415.25 L146.83,415.24 L147.46,415.22 L148.08,415.20" fill="none" stroke="#e8168b" stroke-width="2.0" stroke-linejoin="round" stroke-dasharray="3.2 1.8" opacity="1"/>
<path d="M35.50,417.95 L36.13,418.01 L36.75,417.99 L37.38,417.93 L38.00,417.92 L38.63,417.91 L39.25,417.82 L39.88,417.72 L40.50,417.70 L41.13,417.71 L41.75,417.63 L42.38,417.57 L43.01,417.48 L43.63,417.40 L44.26,417.33 L44.88,417.26 L45.51,417.16 L46.13,417.04 L46.76,416.95 L47.38,416.74 L48.01,416.57 L48.63,416.37 L49.26,416.01 L49.89,415.53 L50.51,414.93 L51.14,414.16 L51.76,413.26 L52.39,412.28 L53.01,411.29 L53.64,410.15 L54.26,408.95 L54.89,407.81 L55.51,406.59 L56.14,405.42 L56.77,404.29 L57.39,403.08 L58.02,401.81 L58.64,400.39 L59.27,398.97 L59.89,397.40 L60.52,395.84 L61.14,394.23 L61.77,392.67 L62.39,391.13 L63.02,389.56 L63.65,387.91 L64.27,386.17 L64.90,384.50 L65.52,382.67 L66.15,380.88 L66.77,379.17 L67.40,377.59 L68.02,376.07 L68.65,374.61 L69.28,373.29 L69.90,371.99 L70.53,370.70 L71.15,369.43 L71.78,368.22 L72.40,367.02 L73.03,365.86 L73.65,364.80 L74.28,363.77 L74.90,362.75 L75.53,361.76 L76.16,360.89 L76.78,360.01 L77.41,359.15 L78.03,358.31 L78.66,357.58 L79.28,356.91 L79.91,356.26 L80.53,355.64 L81.16,355.08 L81.78,354.55 L82.41,353.95 L83.04,353.44 L83.66,352.97 L84.29,352.47 L84.91,352.00 L85.54,351.63 L86.16,351.33 L86.79,351.05 L87.41,350.66 L88.04,350.40 L88.66,350.09 L89.29,349.84 L89.92,349.63 L90.54,349.42 L91.17,349.29 L91.79,349.13 L92.42,349.02 L93.04,348.86 L93.67,348.63 L94.29,348.44 L94.92,348.24 L95.54,348.05 L96.17,347.90 L96.80,347.73 L97.42,347.57 L98.05,347.47 L98.67,347.38 L99.30,347.33 L99.92,347.20 L100.55,347.10 L101.17,347.03 L101.80,346.91 L102.42,346.77 L103.05,346.69 L103.68,346.61 L104.30,346.51 L104.93,346.49 L105.55,346.45 L106.18,346.45 L106.80,346.40 L107.43,346.35 L108.05,346.36 L108.68,346.35 L109.30,346.28 L109.93,346.27 L110.56,346.25 L111.18,346.26 L111.81,346.18 L112.43,346.08 L113.06,346.07 L113.68,346.01 L114.31,345.99 L114.93,345.91 L115.56,345.89 L116.18,345.92 L116.81,345.88 L117.44,345.91 L118.06,345.90 L118.69,345.96 L119.31,345.93 L119.94,345.83 L120.56,345.85 L121.19,345.81 L121.81,345.74 L122.44,345.73 L123.06,345.72 L123.69,345.80 L124.32,345.77 L124.94,345.78 L125.57,345.77 L126.19,345.75 L126.82,345.81 L127.44,345.78 L128.07,345.88 L128.69,345.86 L129.32,345.89 L129.94,345.82 L130.57,345.84 L131.20,345.80 L131.82,345.69 L132.45,345.68 L133.07,345.71 L133.70,345.77 L134.32,345.77 L134.95,345.80 L135.57,345.88 L136.20,345.92 L136.82,345.91 L137.45,345.94 L138.08,345.96 L138.70,345.98 L139.33,345.94 L139.95,345.91 L140.58,345.91 L141.20,345.84 L141.83,345.81 L142.45,345.77 L143.08,345.82 L143.71,345.83 L144.33,345.83 L144.96,345.84 L145.58,345.86 L146.21,345.86 L146.83,345.85 L147.46,345.89 L148.08,345.98" fill="none" stroke="#632c88" stroke-width="1.4" stroke-linejoin="round" opacity="1"/>
<path d="M35.50,417.99 L36.13,417.98 L36.75,418.02 L37.38,417.95 L38.00,417.97 L38.63,417.95 L39.25,417.86 L39.88,417.80 L40.50,417.60 L41.13,417.52 L41.75,417.38 L42.38,417.25 L43.01,417.14 L43.63,417.00 L44.26,416.87 L44.88,416.73 L45.51,416.48 L46.13,416.17 L46.76,415.70 L47.38,415.12 L48.01,414.40 L48.63,413.47 L49.26,412.49 L49.89,411.47 L50.51,410.35 L51.14,409.16 L51.76,408.06 L52.39,406.99 L53.01,405.92 L53.64,404.70 L54.26,403.47 L54.89,402.19 L55.51,400.74 L56.14,399.14 L56.77,397.47 L57.39,395.87 L58.02,394.19 L58.64,392.50 L59.27,390.75 L59.89,389.11 L60.52,387.29 L61.14,385.39 L61.77,383.47 L62.39,381.52 L63.02,379.76 L63.65,377.91 L64.27,376.07 L64.90,374.20 L65.52,372.35 L66.15,370.61 L66.77,368.70 L67.40,366.82 L68.02,365.17 L68.65,363.74 L69.28,362.24 L69.90,360.83 L70.53,359.53 L71.15,358.40 L71.78,357.25 L72.40,355.94 L73.03,354.90 L73.65,353.81 L74.28,352.77 L74.90,351.79 L75.53,350.93 L76.16,350.28 L76.78,349.55 L77.41,348.92 L78.03,348.37 L78.66,347.73 L79.28,347.18 L79.91,346.63 L80.53,346.27 L81.16,345.91 L81.78,345.56 L82.41,345.37 L83.04,345.15 L83.66,344.92 L84.29,344.62 L84.91,344.31 L85.54,344.01 L86.16,343.76 L86.79,343.54 L87.41,343.37 L88.04,343.23 L88.66,343.17 L89.29,343.14 L89.92,343.08 L90.54,343.01 L91.17,343.01 L91.79,342.93 L92.42,342.91 L93.04,342.89 L93.67,342.91 L94.29,342.93 L94.92,342.89 L95.54,342.85 L96.17,342.95 L96.80,343.03 L97.42,343.13 L98.05,343.24 L98.67,343.35 L99.30,343.46 L99.92,343.52 L100.55,343.62 L101.17,343.55 L101.80,343.48 L102.42,343.54 L103.05,343.62 L103.68,343.61 L104.30,343.67 L104.93,343.85 L105.55,343.91 L106.18,343.97 L106.80,344.05 L107.43,344.12 L108.05,344.20 L108.68,344.22 L109.30,344.23 L109.93,344.29 L110.56,344.33 L111.18,344.29 L111.81,344.25 L112.43,344.28 L113.06,344.38 L113.68,344.36 L114.31,344.40 L114.93,344.53 L115.56,344.61 L116.18,344.73 L116.81,344.79 L117.44,344.85 L118.06,344.91 L118.69,344.98 L119.31,345.02 L119.94,345.06 L120.56,345.07 L121.19,345.15 L121.81,345.11 L122.44,345.10 L123.06,345.08 L123.69,344.99 L124.32,345.01 L124.94,344.99 L125.57,345.14 L126.19,345.10 L126.82,345.19 L127.44,345.31 L128.07,345.42 L128.69,345.41 L129.32,345.31 L129.94,345.34 L130.57,345.30 L131.20,345.19 L131.82,345.18 L132.45,345.21 L133.07,345.27 L133.70,345.32 L134.32,345.38 L134.95,345.44 L135.57,345.46 L136.20,345.47 L136.82,345.44 L137.45,345.45 L138.08,345.44 L138.70,345.50 L139.33,345.53 L139.95,345.47 L140.58,345.54 L141.20,345.48 L141.83,345.61 L142.45,345.69 L143.08,345.66 L143.71,345.77 L144.33,345.87 L144.96,345.91 L145.58,345.79 L146.21,345.72 L146.83,345.70 L147.46,345.67 L148.08,345.56" fill="none" stroke="#e8168b" stroke-width="1.4" stroke-linejoin="round" opacity="1"/>
<path d="M35.50,417.30 L36.13,417.33 L36.75,417.29 L37.38,417.27 L38.00,417.31 L38.63,417.28 L39.25,417.23 L39.88,417.19 L40.50,417.10 L41.13,416.94 L41.75,416.72 L42.38,416.53 L43.01,416.28 L43.63,415.82 L44.26,415.19 L44.88,414.52 L45.51,413.67 L46.13,412.70 L46.76,411.78 L47.38,410.72 L48.01,409.66 L48.63,408.59 L49.26,407.34 L49.89,405.96 L50.51,404.34 L51.14,402.65 L51.76,400.89 L52.39,399.11 L53.01,397.38 L53.64,395.57 L54.26,393.82 L54.89,392.20 L55.51,390.59 L56.14,388.88 L56.77,387.25 L57.39,385.66 L58.02,384.03 L58.64,382.42 L59.27,380.75 L59.89,379.14 L60.52,377.46 L61.14,375.70 L61.77,373.95 L62.39,372.14 L63.02,370.43 L63.65,368.70 L64.27,366.99 L64.90,365.48 L65.52,364.00 L66.15,362.66 L66.77,361.31 L67.40,360.11 L68.02,358.97 L68.65,357.77 L69.28,356.67 L69.90,355.69 L70.53,354.73 L71.15,353.78 L71.78,352.93 L72.40,352.21 L73.03,351.53 L73.65,350.86 L74.28,350.31 L74.90,349.81 L75.53,349.31 L76.16,348.89 L76.78,348.45 L77.41,348.04 L78.03,347.72 L78.66,347.37 L79.28,347.12 L79.91,346.81 L80.53,346.59 L81.16,346.39 L81.78,346.17 L82.41,346.01 L83.04,345.86 L83.66,345.79 L84.29,345.81 L84.91,345.86 L85.54,345.89 L86.16,345.98 L86.79,346.02 L87.41,346.14 L88.04,346.23 L88.66,346.25 L89.29,346.33 L89.92,346.37 L90.54,346.45 L91.17,346.50 L91.79,346.49 L92.42,346.45 L93.04,346.55 L93.67,346.55 L94.29,346.49 L94.92,346.46 L95.54,346.44 L96.17,346.41 L96.80,346.29 L97.42,346.26 L98.05,346.27 L98.67,346.21 L99.30,346.16 L99.92,346.19 L100.55,346.14 L101.17,346.14 L101.80,346.14 L102.42,346.10 L103.05,346.16 L103.68,346.11 L104.30,346.12 L104.93,346.10 L105.55,346.13 L106.18,346.14 L106.80,346.10 L107.43,346.10 L108.05,346.04 L108.68,346.04 L109.30,346.02 L109.93,346.02 L110.56,346.00 L111.18,346.00 L111.81,346.11 L112.43,346.08 L113.06,346.06 L113.68,346.08 L114.31,346.12 L114.93,346.10 L115.56,346.01 L116.18,346.01 L116.81,345.99 L117.44,345.95 L118.06,345.90 L118.69,345.90 L119.31,345.96 L119.94,345.95 L120.56,346.04 L121.19,346.03 L121.81,345.99 L122.44,345.98 L123.06,345.97 L123.69,346.01 L124.32,345.91 L124.94,345.97 L125.57,346.01 L126.19,346.05 L126.82,345.98 L127.44,345.98 L128.07,346.02 L128.69,345.97 L129.32,345.95 L129.94,345.96 L130.57,346.05 L131.20,346.07 L131.82,346.11 L132.45,346.12 L133.07,346.19 L133.70,346.18 L134.32,346.18 L134.95,346.15 L135.57,346.08 L136.20,346.12 L136.82,346.05 L137.45,346.05 L138.08,346.03 L138.70,346.03 L139.33,346.05 L139.95,346.04 L140.58,346.10 L141.20,346.09 L141.83,346.12 L142.45,346.04 L143.08,346.01 L143.71,345.95 L144.33,345.86 L144.96,345.84 L145.58,345.78 L146.21,345.86 L146.83,345.87 L147.46,345.87 L148.08,345.96" fill="none" stroke="#24609a" stroke-width="1.4" stroke-linejoin="round" opacity="1"/>
<text x="82.70" y="338.60" font-size="7.3" text-anchor="start" fill="#e8168b" color="#e8168b" stroke-width="0.18" stroke="currentColor" textLength="12.9" lengthAdjust="spacingAndGlyphs" >FN1</text>
<text x="54.40" y="351.00" font-size="7.3" text-anchor="start" fill="#24609a" color="#24609a" stroke-width="0.18" stroke="currentColor" textLength="12.9" lengthAdjust="spacingAndGlyphs" >FXII</text>
<text x="89.70" y="360.80" font-size="7.3" text-anchor="start" fill="#632c88" color="#632c88" stroke-width="0.18" stroke="currentColor" textLength="14.5" lengthAdjust="spacingAndGlyphs" >FN2</text>
<text x="117.60" y="407.70" font-size="7.3" text-anchor="start" fill="#7b4a26" color="#7b4a26" stroke-width="0.18" stroke="currentColor" textLength="20.6" lengthAdjust="spacingAndGlyphs" >EGF-1</text>
<text x="104.20" y="426.60" font-size="7.3" text-anchor="start" fill="#111" color="#111" stroke-width="0.18" stroke="currentColor" textLength="35.8" lengthAdjust="spacingAndGlyphs" >No surface</text>
<path d="M204.3,317.1 V432.3 H323.0" fill="none" stroke="#111" stroke-width="1"/>
<path d="M201.3,432.30 H204.3" stroke="#111" stroke-width="1"/>
<text x="198.10" y="434.50" font-size="7.3" text-anchor="end" fill="#1a1a1a" color="#1a1a1a" stroke-width="0.18" stroke="currentColor" >0.0</text>
<path d="M201.3,395.10 H204.3" stroke="#111" stroke-width="1"/>
<text x="198.10" y="397.30" font-size="7.3" text-anchor="end" fill="#1a1a1a" color="#1a1a1a" stroke-width="0.18" stroke="currentColor" >0.2</text>
<path d="M201.3,357.90 H204.3" stroke="#111" stroke-width="1"/>
<text x="198.10" y="360.10" font-size="7.3" text-anchor="end" fill="#1a1a1a" color="#1a1a1a" stroke-width="0.18" stroke="currentColor" >0.4</text>
<path d="M201.3,320.70 H204.3" stroke="#111" stroke-width="1"/>
<text x="198.10" y="322.90" font-size="7.3" text-anchor="end" fill="#1a1a1a" color="#1a1a1a" stroke-width="0.18" stroke="currentColor" >0.6</text>
<text x="204.30" y="443.90" font-size="7.3" text-anchor="middle" fill="#1a1a1a" color="#1a1a1a" stroke-width="0.18" stroke="currentColor" >0</text>
<path d="M223.60,432.3 V435.3" stroke="#111" stroke-width="1"/>
<text x="223.60" y="443.90" font-size="7.3" text-anchor="middle" fill="#1a1a1a" color="#1a1a1a" stroke-width="0.18" stroke="currentColor" >30</text>
<path d="M242.90,432.3 V435.3" stroke="#111" stroke-width="1"/>
<text x="242.90" y="443.90" font-size="7.3" text-anchor="middle" fill="#1a1a1a" color="#1a1a1a" stroke-width="0.18" stroke="currentColor" >60</text>
<path d="M281.50,432.3 V435.3" stroke="#111" stroke-width="1"/>
<text x="281.50" y="443.90" font-size="7.3" text-anchor="middle" fill="#1a1a1a" color="#1a1a1a" stroke-width="0.18" stroke="currentColor" >120</text>
<path d="M320.10,432.3 V435.3" stroke="#111" stroke-width="1"/>
<text x="320.10" y="443.90" font-size="7.3" text-anchor="middle" fill="#1a1a1a" color="#1a1a1a" stroke-width="0.18" stroke="currentColor" >180</text>
<text x="264.40" y="456.80" font-size="8.4" text-anchor="middle" fill="#1a1a1a" color="#1a1a1a" stroke-width="0.18" stroke="currentColor" style="stroke-width:0.22px" textLength="31" lengthAdjust="spacingAndGlyphs" >Time (min)</text>
<text transform="translate(182.20,376.80) rotate(-90) scale(0.772,1)" font-size="8.4" text-anchor="middle" fill="#1a1a1a" stroke-width="0.18" stroke="currentColor" style="stroke-width:0.22px">OD (405 nm)</text>
<path d="M204.30,418.54 L204.93,418.52 L205.55,418.51 L206.18,418.50 L206.80,418.48 L207.43,418.47 L208.05,418.46 L208.68,418.44 L209.30,418.43 L209.93,418.42 L210.55,418.40 L211.18,418.39 L211.81,418.37 L212.43,418.36 L213.06,418.35 L213.68,418.33 L214.31,418.32 L214.93,418.31 L215.56,418.29 L216.18,418.28 L216.81,418.27 L217.43,418.25 L218.06,418.24 L218.69,418.23 L219.31,418.21 L219.94,418.20 L220.56,418.19 L221.19,418.17 L221.81,418.16 L222.44,418.15 L223.06,418.13 L223.69,418.12 L224.31,418.11 L224.94,418.09 L225.57,418.08 L226.19,418.07 L226.82,418.05 L227.44,418.04 L228.07,418.03 L228.69,418.01 L229.32,418.00 L229.94,417.99 L230.57,417.97 L231.19,417.96 L231.82,417.94 L232.45,417.93 L233.07,417.92 L233.70,417.90 L234.32,417.89 L234.95,417.88 L235.57,417.86 L236.20,417.85 L236.82,417.84 L237.45,417.82 L238.08,417.81 L238.70,417.80 L239.33,417.78 L239.95,417.77 L240.58,417.76 L241.20,417.74 L241.83,417.73 L242.45,417.72 L243.08,417.70 L243.70,417.69 L244.33,417.68 L244.96,417.66 L245.58,417.65 L246.21,417.64 L246.83,417.62 L247.46,417.61 L248.08,417.60 L248.71,417.58 L249.33,417.57 L249.96,417.56 L250.58,417.54 L251.21,417.53 L251.84,417.52 L252.46,417.50 L253.09,417.49 L253.71,417.47 L254.34,417.46 L254.96,417.45 L255.59,417.43 L256.21,417.42 L256.84,417.41 L257.46,417.39 L258.09,417.38 L258.72,417.37 L259.34,417.35 L259.97,417.34 L260.59,417.33 L261.22,417.31 L261.84,417.30 L262.47,417.29 L263.09,417.27 L263.72,417.26 L264.34,417.25 L264.97,417.23 L265.60,417.22 L266.22,417.21 L266.85,417.19 L267.47,417.18 L268.10,417.17 L268.72,417.15 L269.35,417.14 L269.97,417.13 L270.60,417.11 L271.22,417.10 L271.85,417.09 L272.48,417.07 L273.10,417.06 L273.73,417.04 L274.35,417.03 L274.98,417.02 L275.60,417.00 L276.23,416.99 L276.85,416.98 L277.48,416.96 L278.10,416.95 L278.73,416.94 L279.36,416.92 L279.98,416.91 L280.61,416.90 L281.23,416.88 L281.86,416.87 L282.48,416.86 L283.11,416.84 L283.73,416.83 L284.36,416.82 L284.98,416.80 L285.61,416.79 L286.24,416.78 L286.86,416.76 L287.49,416.75 L288.11,416.74 L288.74,416.72 L289.36,416.71 L289.99,416.70 L290.61,416.68 L291.24,416.67 L291.86,416.66 L292.49,416.64 L293.12,416.63 L293.74,416.62 L294.37,416.60 L294.99,416.59 L295.62,416.57 L296.24,416.56 L296.87,416.55 L297.49,416.53 L298.12,416.52 L298.74,416.51 L299.37,416.49 L300.00,416.48 L300.62,416.47 L301.25,416.45 L301.87,416.44 L302.50,416.43 L303.12,416.41 L303.75,416.40 L304.37,416.39 L305.00,416.37 L305.62,416.36 L306.25,416.35 L306.88,416.33 L307.50,416.32 L308.13,416.31 L308.75,416.29 L309.38,416.28 L310.00,416.27 L310.63,416.25 L311.25,416.24 L311.88,416.23 L312.51,416.21 L313.13,416.20 L313.76,416.19 L314.38,416.17 L315.01,416.16 L315.63,416.14 L316.26,416.13 L316.88,416.12" fill="none" stroke="#3db54a" stroke-width="2.0" stroke-linejoin="round" stroke-dasharray="3.2 1.8" opacity="1"/>
<path d="M204.30,417.42 L204.93,417.39 L205.55,417.36 L206.18,417.34 L206.80,417.31 L207.43,417.28 L208.05,417.25 L208.68,417.22 L209.30,417.20 L209.93,417.17 L210.55,417.14 L211.18,417.11 L211.81,417.09 L212.43,417.06 L213.06,417.03 L213.68,417.00 L214.31,416.97 L214.93,416.95 L215.56,416.92 L216.18,416.89 L216.81,416.86 L217.43,416.83 L218.06,416.81 L218.69,416.78 L219.31,416.75 L219.94,416.72 L220.56,416.69 L221.19,416.67 L221.81,416.64 L222.44,416.61 L223.06,416.58 L223.69,416.56 L224.31,416.53 L224.94,416.50 L225.57,416.47 L226.19,416.44 L226.82,416.42 L227.44,416.39 L228.07,416.36 L228.69,416.33 L229.32,416.30 L229.94,416.28 L230.57,416.25 L231.19,416.22 L231.82,416.19 L232.45,416.16 L233.07,416.14 L233.70,416.11 L234.32,416.08 L234.95,416.05 L235.57,416.03 L236.20,416.00 L236.82,415.97 L237.45,415.94 L238.08,415.91 L238.70,415.89 L239.33,415.86 L239.95,415.83 L240.58,415.80 L241.20,415.77 L241.83,415.75 L242.45,415.72 L243.08,415.69 L243.70,415.66 L244.33,415.63 L244.96,415.61 L245.58,415.58 L246.21,415.55 L246.83,415.52 L247.46,415.49 L248.08,415.47 L248.71,415.44 L249.33,415.41 L249.96,415.38 L250.58,415.36 L251.21,415.33 L251.84,415.30 L252.46,415.27 L253.09,415.24 L253.71,415.22 L254.34,415.19 L254.96,415.16 L255.59,415.13 L256.21,415.10 L256.84,415.08 L257.46,415.05 L258.09,415.02 L258.72,414.99 L259.34,414.96 L259.97,414.94 L260.59,414.91 L261.22,414.88 L261.84,414.85 L262.47,414.83 L263.09,414.80 L263.72,414.77 L264.34,414.74 L264.97,414.71 L265.60,414.69 L266.22,414.66 L266.85,414.63 L267.47,414.60 L268.10,414.57 L268.72,414.55 L269.35,414.52 L269.97,414.49 L270.60,414.46 L271.22,414.43 L271.85,414.41 L272.48,414.38 L273.10,414.35 L273.73,414.32 L274.35,414.30 L274.98,414.27 L275.60,414.24 L276.23,414.21 L276.85,414.18 L277.48,414.16 L278.10,414.13 L278.73,414.10 L279.36,414.07 L279.98,414.04 L280.61,414.02 L281.23,413.99 L281.86,413.96 L282.48,413.93 L283.11,413.90 L283.73,413.88 L284.36,413.85 L284.98,413.82 L285.61,413.79 L286.24,413.77 L286.86,413.74 L287.49,413.71 L288.11,413.68 L288.74,413.65 L289.36,413.63 L289.99,413.60 L290.61,413.57 L291.24,413.54 L291.86,413.51 L292.49,413.49 L293.12,413.46 L293.74,413.43 L294.37,413.40 L294.99,413.37 L295.62,413.35 L296.24,413.32 L296.87,413.29 L297.49,413.26 L298.12,413.24 L298.74,413.21 L299.37,413.18 L300.00,413.15 L300.62,413.12 L301.25,413.10 L301.87,413.07 L302.50,413.04 L303.12,413.01 L303.75,412.98 L304.37,412.96 L305.00,412.93 L305.62,412.90 L306.25,412.87 L306.88,412.84 L307.50,412.82 L308.13,412.79 L308.75,412.76 L309.38,412.73 L310.00,412.70 L310.63,412.68 L311.25,412.65 L311.88,412.62 L312.51,412.59 L313.13,412.57 L313.76,412.54 L314.38,412.51 L315.01,412.48 L315.63,412.45 L316.26,412.43 L316.88,412.40" fill="none" stroke="#24609a" stroke-width="2.0" stroke-linejoin="round" stroke-dasharray="3.2 1.8" opacity="1"/>
<path d="M204.30,418.25 L204.93,418.26 L205.55,418.32 L206.18,418.29 L206.80,418.22 L207.43,418.12 L208.05,417.96 L208.68,417.88 L209.30,417.72 L209.93,417.63 L210.55,417.43 L211.18,417.26 L211.81,417.01 L212.43,416.63 L213.06,416.25 L213.68,415.83 L214.31,415.47 L214.93,414.98 L215.56,414.47 L216.18,413.80 L216.81,413.07 L217.43,412.22 L218.06,411.16 L218.69,410.02 L219.31,408.82 L219.94,407.52 L220.56,406.21 L221.19,404.88 L221.81,403.51 L222.44,402.10 L223.06,400.69 L223.69,399.35 L224.31,397.99 L224.94,396.56 L225.57,395.16 L226.19,393.64 L226.82,392.05 L227.44,390.41 L228.07,388.63 L228.69,386.88 L229.32,385.11 L229.94,383.42 L230.57,381.64 L231.19,379.82 L231.82,378.00 L232.45,376.18 L233.07,374.25 L233.70,372.28 L234.32,370.33 L234.95,368.49 L235.57,366.70 L236.20,364.85 L236.82,363.24 L237.45,361.69 L238.08,360.16 L238.70,358.51 L239.33,356.93 L239.95,355.41 L240.58,353.93 L241.20,352.52 L241.83,351.27 L242.45,350.30 L243.08,349.44 L243.70,348.80 L244.33,348.17 L244.96,347.66 L245.58,347.07 L246.21,346.53 L246.83,346.08 L247.46,345.65 L248.08,345.26 L248.71,344.91 L249.33,344.63 L249.96,344.42 L250.58,344.17 L251.21,344.07 L251.84,343.99 L252.46,343.80 L253.09,343.77 L253.71,343.61 L254.34,343.53 L254.96,343.34 L255.59,343.16 L256.21,343.08 L256.84,342.94 L257.46,342.83 L258.09,342.75 L258.72,342.77 L259.34,342.75 L259.97,342.76 L260.59,342.65 L261.22,342.62 L261.84,342.64 L262.47,342.52 L263.09,342.55 L263.72,342.50 L264.34,342.63 L264.97,342.70 L265.60,342.71 L266.22,342.86 L266.85,342.87 L267.47,342.93 L268.10,342.92 L268.72,342.97 L269.35,343.06 L269.97,343.09 L270.60,343.23 L271.22,343.37 L271.85,343.47 L272.48,343.63 L273.10,343.75 L273.73,343.83 L274.35,343.88 L274.98,343.96 L275.60,344.07 L276.23,344.12 L276.85,344.19 L277.48,344.29 L278.10,344.32 L278.73,344.35 L279.36,344.38 L279.98,344.43 L280.61,344.46 L281.23,344.47 L281.86,344.53 L282.48,344.57 L283.11,344.63 L283.73,344.63 L284.36,344.68 L284.98,344.79 L285.61,344.82 L286.24,344.84 L286.86,344.88 L287.49,344.97 L288.11,344.95 L288.74,344.91 L289.36,344.95 L289.99,345.01 L290.61,345.01 L291.24,344.97 L291.86,345.06 L292.49,345.10 L293.12,345.19 L293.74,345.23 L294.37,345.25 L294.99,345.32 L295.62,345.35 L296.24,345.37 L296.87,345.30 L297.49,345.27 L298.12,345.32 L298.74,345.34 L299.37,345.33 L300.00,345.36 L300.62,345.39 L301.25,345.43 L301.87,345.41 L302.50,345.39 L303.12,345.39 L303.75,345.37 L304.37,345.44 L305.00,345.37 L305.62,345.43 L306.25,345.49 L306.88,345.49 L307.50,345.51 L308.13,345.46 L308.75,345.60 L309.38,345.59 L310.00,345.62 L310.63,345.61 L311.25,345.66 L311.88,345.75 L312.51,345.73 L313.13,345.72 L313.76,345.72 L314.38,345.73 L315.01,345.78 L315.63,345.71 L316.26,345.66 L316.88,345.67" fill="none" stroke="#c4c4c4" stroke-width="1.4" stroke-linejoin="round" opacity="1"/>
<path d="M204.30,412.72 L204.93,412.60 L205.55,412.41 L206.18,412.27 L206.80,411.99 L207.43,411.74 L208.05,411.50 L208.68,411.19 L209.30,410.90 L209.93,410.58 L210.55,410.38 L211.18,410.10 L211.81,409.77 L212.43,409.51 L213.06,409.27 L213.68,408.94 L214.31,408.51 L214.93,408.11 L215.56,407.65 L216.18,407.21 L216.81,406.67 L217.43,406.17 L218.06,405.64 L218.69,405.09 L219.31,404.52 L219.94,403.88 L220.56,403.31 L221.19,402.60 L221.81,401.89 L222.44,401.06 L223.06,400.20 L223.69,399.30 L224.31,398.39 L224.94,397.49 L225.57,396.57 L226.19,395.76 L226.82,395.07 L227.44,394.36 L228.07,393.68 L228.69,393.08 L229.32,392.47 L229.94,391.83 L230.57,391.16 L231.19,390.60 L231.82,390.04 L232.45,389.43 L233.07,388.82 L233.70,388.22 L234.32,387.66 L234.95,387.05 L235.57,386.37 L236.20,385.73 L236.82,385.15 L237.45,384.59 L238.08,383.95 L238.70,383.34 L239.33,382.76 L239.95,382.18 L240.58,381.53 L241.20,380.86 L241.83,380.23 L242.45,379.61 L243.08,379.03 L243.70,378.34 L244.33,377.71 L244.96,377.17 L245.58,376.54 L246.21,375.91 L246.83,375.26 L247.46,374.67 L248.08,374.11 L248.71,373.47 L249.33,372.84 L249.96,372.21 L250.58,371.55 L251.21,370.90 L251.84,370.23 L252.46,369.58 L253.09,368.99 L253.71,368.31 L254.34,367.69 L254.96,367.12 L255.59,366.46 L256.21,365.80 L256.84,365.25 L257.46,364.69 L258.09,364.05 L258.72,363.50 L259.34,363.04 L259.97,362.51 L260.59,361.93 L261.22,361.45 L261.84,360.93 L262.47,360.37 L263.09,359.81 L263.72,359.30 L264.34,358.80 L264.97,358.34 L265.60,357.87 L266.22,357.39 L266.85,356.96 L267.47,356.58 L268.10,356.20 L268.72,355.74 L269.35,355.45 L269.97,355.05 L270.60,354.74 L271.22,354.36 L271.85,354.03 L272.48,353.79 L273.10,353.46 L273.73,353.27 L274.35,352.94 L274.98,352.77 L275.60,352.51 L276.23,352.26 L276.85,352.06 L277.48,351.82 L278.10,351.64 L278.73,351.43 L279.36,351.23 L279.98,351.08 L280.61,350.92 L281.23,350.72 L281.86,350.56 L282.48,350.33 L283.11,350.18 L283.73,350.00 L284.36,349.82 L284.98,349.69 L285.61,349.53 L286.24,349.40 L286.86,349.20 L287.49,349.04 L288.11,348.90 L288.74,348.82 L289.36,348.67 L289.99,348.58 L290.61,348.51 L291.24,348.41 L291.86,348.30 L292.49,348.15 L293.12,348.03 L293.74,347.90 L294.37,347.78 L294.99,347.61 L295.62,347.55 L296.24,347.49 L296.87,347.40 L297.49,347.30 L298.12,347.22 L298.74,347.26 L299.37,347.15 L300.00,347.01 L300.62,346.94 L301.25,346.87 L301.87,346.80 L302.50,346.68 L303.12,346.63 L303.75,346.60 L304.37,346.62 L305.00,346.53 L305.62,346.53 L306.25,346.43 L306.88,346.37 L307.50,346.38 L308.13,346.31 L308.75,346.32 L309.38,346.23 L310.00,346.28 L310.63,346.27 L311.25,346.21 L311.88,346.20 L312.51,346.18 L313.13,346.22 L313.76,346.19 L314.38,346.23 L315.01,346.27 L315.63,346.24 L316.26,346.23 L316.88,346.20" fill="none" stroke="#1c7a55" stroke-width="1.4" stroke-linejoin="round" opacity="1"/>
<path d="M204.30,418.39 L204.93,418.19 L205.55,418.11 L206.18,417.93 L206.80,417.82 L207.43,417.66 L208.05,417.62 L208.68,417.57 L209.30,417.38 L209.93,417.24 L210.55,417.12 L211.18,417.00 L211.81,416.78 L212.43,416.64 L213.06,416.50 L213.68,416.40 L214.31,416.26 L214.93,416.20 L215.56,416.16 L216.18,416.06 L216.81,415.90 L217.43,415.79 L218.06,415.65 L218.69,415.47 L219.31,415.33 L219.94,415.15 L220.56,415.02 L221.19,414.89 L221.81,414.77 L222.44,414.63 L223.06,414.41 L223.69,414.15 L224.31,413.81 L224.94,413.41 L225.57,412.94 L226.19,412.36 L226.82,411.80 L227.44,411.18 L228.07,410.41 L228.69,409.63 L229.32,408.53 L229.94,406.83 L230.57,404.69 L231.19,402.24 L231.82,399.70 L232.45,397.02 L233.07,394.44 L233.70,391.75 L234.32,388.74 L234.95,385.59 L235.57,382.38 L236.20,379.18 L236.82,376.03 L237.45,372.95 L238.08,369.85 L238.70,366.64 L239.33,363.52 L239.95,360.70 L240.58,358.21 L241.20,356.03 L241.83,354.08 L242.45,352.33 L243.08,350.74 L243.70,349.19 L244.33,347.81 L244.96,346.74 L245.58,345.83 L246.21,344.99 L246.83,344.19 L247.46,343.42 L248.08,342.81 L248.71,342.25 L249.33,341.76 L249.96,341.35 L250.58,341.09 L251.21,340.78 L251.84,340.50 L252.46,340.22 L253.09,340.04 L253.71,339.90 L254.34,339.69 L254.96,339.63 L255.59,339.56 L256.21,339.46 L256.84,339.40 L257.46,339.37 L258.09,339.32 L258.72,339.34 L259.34,339.41 L259.97,339.51 L260.59,339.60 L261.22,339.68 L261.84,339.87 L262.47,340.01 L263.09,340.04 L263.72,340.23 L264.34,340.36 L264.97,340.53 L265.60,340.70 L266.22,340.92 L266.85,341.17 L267.47,341.31 L268.10,341.43 L268.72,341.61 L269.35,341.81 L269.97,342.00 L270.60,342.21 L271.22,342.42 L271.85,342.71 L272.48,342.90 L273.10,343.10 L273.73,343.29 L274.35,343.47 L274.98,343.66 L275.60,343.78 L276.23,343.84 L276.85,343.93 L277.48,344.08 L278.10,344.22 L278.73,344.39 L279.36,344.50 L279.98,344.69 L280.61,344.80 L281.23,344.85 L281.86,344.86 L282.48,344.91 L283.11,344.97 L283.73,345.01 L284.36,345.07 L284.98,345.12 L285.61,345.19 L286.24,345.21 L286.86,345.24 L287.49,345.28 L288.11,345.33 L288.74,345.38 L289.36,345.40 L289.99,345.41 L290.61,345.45 L291.24,345.46 L291.86,345.48 L292.49,345.44 L293.12,345.47 L293.74,345.52 L294.37,345.50 L294.99,345.57 L295.62,345.59 L296.24,345.66 L296.87,345.67 L297.49,345.66 L298.12,345.69 L298.74,345.68 L299.37,345.70 L300.00,345.70 L300.62,345.76 L301.25,345.75 L301.87,345.73 L302.50,345.76 L303.12,345.75 L303.75,345.70 L304.37,345.67 L305.00,345.75 L305.62,345.80 L306.25,345.81 L306.88,345.80 L307.50,345.89 L308.13,345.88 L308.75,345.87 L309.38,345.80 L310.00,345.76 L310.63,345.80 L311.25,345.80 L311.88,345.82 L312.51,345.85 L313.13,345.95 L313.76,345.93 L314.38,345.90 L315.01,345.90 L315.63,345.89 L316.26,345.83 L316.88,345.79" fill="none" stroke="#3db54a" stroke-width="1.4" stroke-linejoin="round" opacity="1"/>
<path d="M204.30,418.38 L204.93,418.37 L205.55,418.32 L206.18,418.24 L206.80,418.12 L207.43,417.89 L208.05,417.62 L208.68,417.29 L209.30,416.95 L209.93,416.56 L210.55,416.09 L211.18,415.63 L211.81,415.13 L212.43,414.55 L213.06,413.96 L213.68,413.38 L214.31,412.65 L214.93,411.76 L215.56,410.74 L216.18,409.79 L216.81,408.67 L217.43,407.39 L218.06,406.16 L218.69,404.93 L219.31,403.58 L219.94,402.01 L220.56,400.28 L221.19,398.59 L221.81,396.71 L222.44,394.82 L223.06,392.88 L223.69,390.98 L224.31,389.05 L224.94,386.91 L225.57,384.88 L226.19,382.75 L226.82,380.67 L227.44,378.66 L228.07,376.74 L228.69,375.00 L229.32,373.26 L229.94,371.70 L230.57,370.12 L231.19,368.62 L231.82,367.25 L232.45,365.89 L233.07,364.52 L233.70,363.20 L234.32,361.91 L234.95,360.63 L235.57,359.33 L236.20,357.98 L236.82,356.81 L237.45,355.73 L238.08,354.72 L238.70,353.79 L239.33,353.02 L239.95,352.34 L240.58,351.56 L241.20,350.73 L241.83,349.97 L242.45,349.34 L243.08,348.66 L243.70,348.08 L244.33,347.67 L244.96,347.38 L245.58,347.15 L246.21,346.93 L246.83,346.80 L247.46,346.60 L248.08,346.34 L248.71,346.17 L249.33,346.02 L249.96,345.80 L250.58,345.61 L251.21,345.48 L251.84,345.45 L252.46,345.37 L253.09,345.34 L253.71,345.34 L254.34,345.29 L254.96,345.28 L255.59,345.32 L256.21,345.38 L256.84,345.39 L257.46,345.43 L258.09,345.54 L258.72,345.63 L259.34,345.60 L259.97,345.59 L260.59,345.69 L261.22,345.78 L261.84,345.83 L262.47,345.91 L263.09,345.92 L263.72,345.97 L264.34,345.94 L264.97,345.92 L265.60,345.90 L266.22,345.81 L266.85,345.85 L267.47,345.84 L268.10,345.79 L268.72,345.77 L269.35,345.71 L269.97,345.82 L270.60,345.85 L271.22,345.79 L271.85,345.84 L272.48,345.88 L273.10,345.92 L273.73,345.84 L274.35,345.83 L274.98,345.90 L275.60,345.84 L276.23,345.85 L276.85,345.79 L277.48,345.79 L278.10,345.76 L278.73,345.71 L279.36,345.74 L279.98,345.71 L280.61,345.68 L281.23,345.70 L281.86,345.70 L282.48,345.73 L283.11,345.76 L283.73,345.74 L284.36,345.83 L284.98,345.80 L285.61,345.78 L286.24,345.75 L286.86,345.73 L287.49,345.79 L288.11,345.77 L288.74,345.71 L289.36,345.78 L289.99,345.77 L290.61,345.76 L291.24,345.71 L291.86,345.73 L292.49,345.86 L293.12,345.83 L293.74,345.85 L294.37,345.86 L294.99,345.85 L295.62,345.84 L296.24,345.83 L296.87,345.82 L297.49,345.83 L298.12,345.89 L298.74,345.88 L299.37,345.84 L300.00,345.76 L300.62,345.78 L301.25,345.76 L301.87,345.73 L302.50,345.81 L303.12,345.80 L303.75,345.87 L304.37,345.94 L305.00,345.99 L305.62,345.97 L306.25,345.96 L306.88,346.05 L307.50,346.02 L308.13,345.97 L308.75,345.92 L309.38,345.94 L310.00,345.90 L310.63,345.87 L311.25,345.91 L311.88,345.93 L312.51,345.98 L313.13,345.99 L313.76,346.11 L314.38,346.14 L315.01,346.19 L315.63,346.20 L316.26,346.28 L316.88,346.29" fill="none" stroke="#24609a" stroke-width="1.4" stroke-linejoin="round" opacity="1"/>
<text x="240.00" y="335.50" font-size="7.3" text-anchor="start" fill="#3db54a" color="#3db54a" stroke-width="0.18" stroke="currentColor" textLength="16.8" lengthAdjust="spacingAndGlyphs" >KNG</text>
<text x="272.80" y="338.60" font-size="7.3" text-anchor="start" fill="#c4c4c4" color="#c4c4c4" stroke-width="0.18" stroke="currentColor" textLength="19.6" lengthAdjust="spacingAndGlyphs" >EGF2</text>
<text x="220.10" y="358.20" font-size="7.3" text-anchor="start" fill="#24609a" color="#24609a" stroke-width="0.18" stroke="currentColor" textLength="12.9" lengthAdjust="spacingAndGlyphs" >FXII</text>
<text x="254.70" y="376.30" font-size="7.3" text-anchor="start" fill="#1c7a55" color="#1c7a55" stroke-width="0.18" stroke="currentColor" textLength="15.0" lengthAdjust="spacingAndGlyphs" >PRR</text>
<text x="272.30" y="426.60" font-size="7.3" text-anchor="start" fill="#111" color="#111" stroke-width="0.18" stroke="currentColor" textLength="35.6" lengthAdjust="spacingAndGlyphs" >No surface</text>
<path d="M390.8,317.3 V432.6 H510.6" fill="none" stroke="#111" stroke-width="1"/>
<path d="M387.8,432.60 H390.8" stroke="#111" stroke-width="1"/>
<text x="384.60" y="434.80" font-size="7.3" text-anchor="end" fill="#1a1a1a" color="#1a1a1a" stroke-width="0.18" stroke="currentColor" >0</text>
<path d="M387.8,410.25 H390.8" stroke="#111" stroke-width="1"/>
<text x="384.60" y="412.45" font-size="7.3" text-anchor="end" fill="#1a1a1a" color="#1a1a1a" stroke-width="0.18" stroke="currentColor" >0.1</text>
<path d="M387.8,387.90 H390.8" stroke="#111" stroke-width="1"/>
<text x="384.60" y="390.10" font-size="7.3" text-anchor="end" fill="#1a1a1a" color="#1a1a1a" stroke-width="0.18" stroke="currentColor" >0.2</text>
<path d="M387.8,365.55 H390.8" stroke="#111" stroke-width="1"/>
<text x="384.60" y="367.75" font-size="7.3" text-anchor="end" fill="#1a1a1a" color="#1a1a1a" stroke-width="0.18" stroke="currentColor" >0.3</text>
<path d="M387.8,343.20 H390.8" stroke="#111" stroke-width="1"/>
<text x="384.60" y="345.40" font-size="7.3" text-anchor="end" fill="#1a1a1a" color="#1a1a1a" stroke-width="0.18" stroke="currentColor" >0.4</text>
<path d="M387.8,320.85 H390.8" stroke="#111" stroke-width="1"/>
<text x="384.60" y="323.05" font-size="7.3" text-anchor="end" fill="#1a1a1a" color="#1a1a1a" stroke-width="0.18" stroke="currentColor" >0.5</text>
<text x="390.80" y="444.20" font-size="7.3" text-anchor="middle" fill="#1a1a1a" color="#1a1a1a" stroke-width="0.18" stroke="currentColor" >0</text>
<path d="M419.90,432.6 V435.6" stroke="#111" stroke-width="1"/>
<text x="419.90" y="444.20" font-size="7.3" text-anchor="middle" fill="#1a1a1a" color="#1a1a1a" stroke-width="0.18" stroke="currentColor" >30</text>
<path d="M449.00,432.6 V435.6" stroke="#111" stroke-width="1"/>
<text x="449.00" y="444.20" font-size="7.3" text-anchor="middle" fill="#1a1a1a" color="#1a1a1a" stroke-width="0.18" stroke="currentColor" >60</text>
<path d="M507.20,432.6 V435.6" stroke="#111" stroke-width="1"/>
<text x="507.20" y="444.20" font-size="7.3" text-anchor="middle" fill="#1a1a1a" color="#1a1a1a" stroke-width="0.18" stroke="currentColor" >120</text>
<text x="449.30" y="456.60" font-size="8.4" text-anchor="middle" fill="#1a1a1a" color="#1a1a1a" stroke-width="0.18" stroke="currentColor" style="stroke-width:0.22px" textLength="31" lengthAdjust="spacingAndGlyphs" >Time (min)</text>
<text transform="translate(368.60,376.80) rotate(-90) scale(0.772,1)" font-size="8.4" text-anchor="middle" fill="#1a1a1a" stroke-width="0.18" stroke="currentColor" style="stroke-width:0.22px">OD (405 nm)</text>
<path d="M390.80,412.57 L391.45,412.34 L392.09,412.23 L392.74,412.19 L393.39,412.60 L394.03,412.40 L394.68,412.50 L395.33,412.70 L395.97,412.54 L396.62,412.70 L397.27,412.52 L397.91,412.30 L398.56,411.96 L399.21,411.82 L399.85,411.80 L400.50,411.56 L401.15,411.30 L401.79,411.63 L402.44,411.58 L403.09,411.62 L403.73,411.75 L404.38,411.78 L405.03,412.14 L405.67,411.95 L406.32,412.18 L406.97,411.96 L407.61,411.93 L408.26,411.71 L408.91,411.34 L409.55,411.07 L410.20,410.89 L410.85,411.01 L411.49,411.09 L412.14,411.33 L412.79,411.43 L413.43,411.77 L414.08,411.79 L414.73,411.86 L415.37,411.70 L416.02,411.51 L416.67,411.45 L417.31,411.28 L417.96,411.20 L418.61,410.97 L419.25,410.97 L419.90,411.08 L420.55,411.13 L421.19,411.20 L421.84,411.19 L422.49,411.31 L423.13,411.17 L423.78,411.31 L424.43,411.35 L425.07,411.33 L425.72,411.24 L426.37,411.20 L427.01,411.10 L427.66,410.76 L428.31,410.62 L428.95,410.65 L429.60,410.80 L430.25,410.75 L430.89,411.04 L431.54,411.03 L432.19,410.83 L432.83,410.60 L433.48,410.28 L434.13,410.15 L434.77,409.91 L435.42,409.74 L436.07,409.93 L436.71,409.82 L437.36,410.24 L438.01,410.34 L438.65,410.43 L439.30,410.57 L439.95,410.56 L440.59,410.67 L441.24,410.27 L441.89,410.26 L442.53,410.06 L443.18,409.99 L443.83,409.93 L444.47,410.13 L445.12,410.42 L445.77,410.50 L446.41,410.48 L447.06,410.29 L447.71,410.20 L448.35,410.02 L449.00,409.66 L449.65,409.42 L450.29,409.54 L450.94,409.67 L451.59,409.66 L452.23,409.64 L452.88,409.70 L453.53,409.64 L454.17,409.44 L454.82,409.37 L455.47,409.40 L456.11,409.34 L456.76,409.19 L457.41,409.12 L458.05,408.97 L458.70,408.93 L459.35,408.89 L459.99,408.86 L460.64,408.74 L461.29,408.83 L461.93,408.80 L462.58,408.86 L463.23,408.93 L463.87,408.89 L464.52,409.01 L465.17,408.83 L465.81,408.98 L466.46,408.83 L467.11,408.50 L467.75,408.46 L468.40,408.44 L469.05,408.51 L469.69,408.65 L470.34,408.66 L470.99,408.74 L471.63,408.78 L472.28,408.88 L472.93,408.97 L473.57,408.87 L474.22,408.94 L474.87,408.85 L475.51,408.75 L476.16,408.69 L476.81,408.47 L477.45,408.34 L478.10,408.26 L478.75,408.52 L479.39,408.39 L480.04,408.35 L480.69,408.40 L481.33,408.41 L481.98,408.29 L482.63,408.09 L483.27,407.99 L483.92,407.93 L484.57,407.97 L485.21,407.99 L485.86,407.93 L486.51,407.84 L487.15,407.76 L487.80,407.59 L488.45,407.50 L489.09,407.52 L489.74,407.60 L490.39,407.56 L491.03,407.70 L491.68,407.99 L492.33,407.88 L492.97,407.92 L493.62,407.97 L494.27,408.31 L494.91,408.35 L495.56,407.92 L496.21,407.93 L496.85,407.68 L497.50,407.57 L498.15,407.34 L498.79,407.27 L499.44,407.18 L500.09,407.26 L500.73,407.24 L501.38,407.37 L502.03,407.21 L502.67,407.05 L503.32,407.31 L503.97,407.20 L504.61,407.13 L505.26,406.94 L505.91,406.94 L506.55,406.97 L507.20,407.01" fill="none" stroke="#c4c4c4" stroke-width="1.4" stroke-linejoin="round" opacity="1"/>
<path d="M390.80,412.21 L391.45,412.41 L392.09,412.31 L392.74,412.38 L393.39,412.56 L394.03,412.48 L394.68,412.38 L395.33,412.35 L395.97,412.36 L396.62,412.35 L397.27,412.24 L397.91,412.19 L398.56,412.42 L399.21,412.43 L399.85,412.39 L400.50,412.18 L401.15,412.03 L401.79,412.08 L402.44,411.89 L403.09,411.77 L403.73,411.39 L404.38,411.59 L405.03,411.52 L405.67,411.57 L406.32,411.46 L406.97,411.40 L407.61,411.50 L408.26,411.29 L408.91,411.12 L409.55,411.09 L410.20,411.17 L410.85,411.26 L411.49,411.25 L412.14,411.27 L412.79,411.27 L413.43,411.23 L414.08,411.47 L414.73,411.27 L415.37,411.46 L416.02,411.37 L416.67,411.36 L417.31,411.05 L417.96,410.71 L418.61,410.83 L419.25,410.82 L419.90,410.69 L420.55,410.80 L421.19,411.03 L421.84,410.99 L422.49,410.91 L423.13,411.09 L423.78,411.47 L424.43,411.52 L425.07,411.24 L425.72,411.44 L426.37,411.70 L427.01,411.26 L427.66,411.23 L428.31,411.07 L428.95,411.30 L429.60,411.09 L430.25,410.85 L430.89,410.99 L431.54,410.65 L432.19,410.79 L432.83,410.68 L433.48,410.87 L434.13,410.91 L434.77,411.03 L435.42,411.06 L436.07,410.90 L436.71,410.91 L437.36,410.81 L438.01,410.72 L438.65,410.58 L439.30,410.82 L439.95,410.96 L440.59,410.90 L441.24,410.88 L441.89,410.76 L442.53,410.62 L443.18,410.43 L443.83,410.29 L444.47,410.14 L445.12,409.94 L445.77,409.96 L446.41,410.03 L447.06,409.89 L447.71,409.92 L448.35,409.99 L449.00,410.10 L449.65,410.16 L450.29,410.11 L450.94,410.18 L451.59,410.27 L452.23,410.24 L452.88,410.39 L453.53,410.39 L454.17,410.45 L454.82,410.43 L455.47,410.26 L456.11,410.23 L456.76,410.10 L457.41,410.29 L458.05,410.17 L458.70,409.96 L459.35,409.95 L459.99,410.13 L460.64,409.86 L461.29,409.57 L461.93,409.66 L462.58,410.04 L463.23,409.93 L463.87,409.49 L464.52,409.64 L465.17,409.72 L465.81,409.63 L466.46,409.29 L467.11,409.39 L467.75,409.69 L468.40,409.71 L469.05,409.56 L469.69,409.62 L470.34,409.81 L470.99,409.59 L471.63,409.53 L472.28,409.83 L472.93,409.83 L473.57,409.68 L474.22,409.55 L474.87,409.79 L475.51,409.61 L476.16,409.28 L476.81,409.18 L477.45,409.15 L478.10,409.07 L478.75,408.73 L479.39,408.73 L480.04,408.83 L480.69,408.81 L481.33,408.74 L481.98,408.62 L482.63,408.50 L483.27,408.46 L483.92,408.11 L484.57,408.20 L485.21,408.34 L485.86,408.46 L486.51,408.75 L487.15,408.73 L487.80,408.81 L488.45,408.67 L489.09,408.51 L489.74,408.55 L490.39,408.72 L491.03,408.79 L491.68,408.67 L492.33,408.78 L492.97,408.90 L493.62,408.81 L494.27,408.46 L494.91,408.37 L495.56,408.56 L496.21,408.50 L496.85,408.44 L497.50,408.41 L498.15,408.40 L498.79,408.42 L499.44,408.24 L500.09,408.38 L500.73,408.18 L501.38,408.30 L502.03,408.65 L502.67,408.67 L503.32,408.63 L503.97,408.44 L504.61,408.41 L505.26,408.06 L505.91,407.60 L506.55,407.57 L507.20,407.62" fill="none" stroke="#632c88" stroke-width="1.4" stroke-linejoin="round" opacity="1"/>
<path d="M390.80,414.07 L391.45,414.12 L392.09,413.90 L392.74,413.41 L393.39,413.41 L394.03,413.30 L394.68,413.25 L395.33,413.03 L395.97,412.84 L396.62,412.99 L397.27,412.75 L397.91,412.82 L398.56,412.93 L399.21,413.24 L399.85,413.50 L400.50,413.60 L401.15,413.76 L401.79,413.86 L402.44,413.91 L403.09,413.83 L403.73,413.62 L404.38,413.63 L405.03,413.55 L405.67,413.27 L406.32,413.09 L406.97,413.00 L407.61,413.02 L408.26,412.71 L408.91,412.64 L409.55,412.60 L410.20,412.53 L410.85,412.26 L411.49,412.26 L412.14,412.29 L412.79,412.22 L413.43,412.33 L414.08,412.44 L414.73,412.76 L415.37,412.72 L416.02,412.70 L416.67,412.74 L417.31,412.68 L417.96,412.74 L418.61,412.59 L419.25,412.66 L419.90,412.73 L420.55,412.71 L421.19,412.74 L421.84,412.93 L422.49,413.01 L423.13,413.19 L423.78,413.13 L424.43,412.92 L425.07,412.76 L425.72,412.73 L426.37,412.39 L427.01,412.13 L427.66,412.13 L428.31,412.32 L428.95,412.43 L429.60,412.29 L430.25,412.54 L430.89,412.47 L431.54,412.33 L432.19,412.28 L432.83,412.25 L433.48,412.04 L434.13,412.11 L434.77,412.03 L435.42,411.83 L436.07,411.91 L436.71,411.76 L437.36,411.48 L438.01,411.53 L438.65,411.73 L439.30,411.65 L439.95,411.42 L440.59,411.33 L441.24,411.64 L441.89,411.46 L442.53,411.37 L443.18,411.55 L443.83,411.73 L444.47,411.93 L445.12,411.98 L445.77,411.85 L446.41,411.77 L447.06,411.77 L447.71,411.91 L448.35,411.78 L449.00,411.60 L449.65,411.56 L450.29,411.46 L450.94,411.50 L451.59,411.17 L452.23,411.18 L452.88,411.12 L453.53,411.01 L454.17,410.95 L454.82,410.97 L455.47,411.04 L456.11,410.94 L456.76,410.79 L457.41,410.93 L458.05,411.00 L458.70,411.00 L459.35,411.15 L459.99,411.15 L460.64,411.35 L461.29,411.50 L461.93,411.39 L462.58,411.32 L463.23,410.96 L463.87,410.99 L464.52,410.98 L465.17,410.65 L465.81,410.74 L466.46,410.57 L467.11,410.61 L467.75,410.74 L468.40,410.81 L469.05,411.05 L469.69,410.91 L470.34,411.08 L470.99,410.91 L471.63,410.59 L472.28,410.29 L472.93,410.11 L473.57,410.05 L474.22,409.86 L474.87,410.07 L475.51,410.19 L476.16,410.39 L476.81,410.41 L477.45,410.61 L478.10,410.87 L478.75,410.87 L479.39,410.85 L480.04,410.79 L480.69,410.67 L481.33,410.42 L481.98,410.01 L482.63,410.03 L483.27,409.89 L483.92,409.76 L484.57,409.71 L485.21,409.78 L485.86,409.99 L486.51,409.99 L487.15,410.05 L487.80,409.95 L488.45,410.02 L489.09,410.11 L489.74,410.15 L490.39,409.87 L491.03,409.85 L491.68,409.77 L492.33,409.86 L492.97,409.83 L493.62,409.91 L494.27,409.94 L494.91,410.04 L495.56,410.22 L496.21,410.04 L496.85,409.91 L497.50,409.69 L498.15,409.95 L498.79,409.65 L499.44,409.62 L500.09,409.56 L500.73,409.64 L501.38,409.47 L502.03,409.27 L502.67,409.41 L503.32,409.53 L503.97,409.52 L504.61,409.66 L505.26,409.61 L505.91,409.62 L506.55,409.43 L507.20,409.13" fill="none" stroke="#1c7a55" stroke-width="1.4" stroke-linejoin="round" opacity="1"/>
<path d="M390.80,416.08 L391.45,416.01 L392.09,415.82 L392.74,415.84 L393.39,415.70 L394.03,415.70 L394.68,415.62 L395.33,415.59 L395.97,415.65 L396.62,415.48 L397.27,415.47 L397.91,415.65 L398.56,415.50 L399.21,415.57 L399.85,415.58 L400.50,415.77 L401.15,415.83 L401.79,415.64 L402.44,415.66 L403.09,415.47 L403.73,415.47 L404.38,415.25 L405.03,415.08 L405.67,415.18 L406.32,415.12 L406.97,415.12 L407.61,415.03 L408.26,415.06 L408.91,415.10 L409.55,414.93 L410.20,414.89 L410.85,414.81 L411.49,414.71 L412.14,414.63 L412.79,414.56 L413.43,414.40 L414.08,414.29 L414.73,414.18 L415.37,414.19 L416.02,414.00 L416.67,413.97 L417.31,414.10 L417.96,414.18 L418.61,414.15 L419.25,414.04 L419.90,414.11 L420.55,414.11 L421.19,413.91 L421.84,413.85 L422.49,413.85 L423.13,413.75 L423.78,413.62 L424.43,413.55 L425.07,413.56 L425.72,413.47 L426.37,413.43 L427.01,413.44 L427.66,413.45 L428.31,413.39 L428.95,413.34 L429.60,413.46 L430.25,413.43 L430.89,413.28 L431.54,413.29 L432.19,413.29 L432.83,413.38 L433.48,413.11 L434.13,413.05 L434.77,413.00 L435.42,412.83 L436.07,412.71 L436.71,412.46 L437.36,412.51 L438.01,412.46 L438.65,412.57 L439.30,412.68 L439.95,412.58 L440.59,412.56 L441.24,412.55 L441.89,412.41 L442.53,412.27 L443.18,412.26 L443.83,412.31 L444.47,412.37 L445.12,412.27 L445.77,412.33 L446.41,412.36 L447.06,412.23 L447.71,412.09 L448.35,411.94 L449.00,411.89 L449.65,411.86 L450.29,411.83 L450.94,411.83 L451.59,411.81 L452.23,411.82 L452.88,411.68 L453.53,411.56 L454.17,411.47 L454.82,411.44 L455.47,411.58 L456.11,411.68 L456.76,411.79 L457.41,411.72 L458.05,411.55 L458.70,411.39 L459.35,411.14 L459.99,410.94 L460.64,410.85 L461.29,410.85 L461.93,410.99 L462.58,411.06 L463.23,410.96 L463.87,410.92 L464.52,410.73 L465.17,410.61 L465.81,410.32 L466.46,410.13 L467.11,410.24 L467.75,410.06 L468.40,410.21 L469.05,410.19 L469.69,410.34 L470.34,410.41 L470.99,410.27 L471.63,410.44 L472.28,410.31 L472.93,410.28 L473.57,410.27 L474.22,410.22 L474.87,410.23 L475.51,410.12 L476.16,410.10 L476.81,410.19 L477.45,410.12 L478.10,410.14 L478.75,410.15 L479.39,410.14 L480.04,410.11 L480.69,409.90 L481.33,409.85 L481.98,409.65 L482.63,409.44 L483.27,409.36 L483.92,409.36 L484.57,409.38 L485.21,409.28 L485.86,409.33 L486.51,409.39 L487.15,409.32 L487.80,409.26 L488.45,409.25 L489.09,409.26 L489.74,409.13 L490.39,409.03 L491.03,409.07 L491.68,409.07 L492.33,409.12 L492.97,408.99 L493.62,408.91 L494.27,409.04 L494.91,408.97 L495.56,408.89 L496.21,408.83 L496.85,408.78 L497.50,408.79 L498.15,408.56 L498.79,408.29 L499.44,408.18 L500.09,408.10 L500.73,408.24 L501.38,408.06 L502.03,408.02 L502.67,408.20 L503.32,408.18 L503.97,408.08 L504.61,407.81 L505.26,407.78 L505.91,407.84 L506.55,407.65 L507.20,407.54" fill="none" stroke="#3db54a" stroke-width="1.4" stroke-linejoin="round" opacity="1"/>
<path d="M390.80,414.33 L391.45,414.28 L392.09,414.32 L392.74,414.44 L393.39,414.29 L394.03,414.32 L394.68,414.29 L395.33,414.37 L395.97,414.39 L396.62,414.29 L397.27,414.27 L397.91,414.26 L398.56,414.30 L399.21,414.36 L399.85,414.18 L400.50,414.17 L401.15,414.19 L401.79,414.18 L402.44,414.16 L403.09,414.02 L403.73,413.98 L404.38,414.05 L405.03,414.04 L405.67,413.96 L406.32,413.91 L406.97,413.95 L407.61,414.04 L408.26,413.85 L408.91,413.84 L409.55,413.90 L410.20,413.97 L410.85,414.03 L411.49,414.15 L412.14,414.23 L412.79,414.22 L413.43,414.17 L414.08,414.02 L414.73,413.88 L415.37,413.75 L416.02,413.84 L416.67,413.78 L417.31,413.74 L417.96,413.80 L418.61,413.99 L419.25,413.92 L419.90,413.89 L420.55,414.07 L421.19,414.11 L421.84,414.06 L422.49,413.87 L423.13,413.96 L423.78,413.87 L424.43,413.76 L425.07,413.76 L425.72,413.88 L426.37,413.86 L427.01,413.93 L427.66,413.91 L428.31,413.92 L428.95,413.95 L429.60,413.94 L430.25,414.02 L430.89,413.96 L431.54,414.10 L432.19,414.10 L432.83,414.06 L433.48,413.98 L434.13,414.00 L434.77,414.02 L435.42,414.01 L436.07,414.00 L436.71,413.99 L437.36,414.03 L438.01,414.01 L438.65,413.92 L439.30,413.80 L439.95,413.74 L440.59,413.68 L441.24,413.65 L441.89,413.69 L442.53,413.68 L443.18,413.72 L443.83,413.77 L444.47,413.78 L445.12,413.86 L445.77,413.81 L446.41,413.83 L447.06,413.76 L447.71,413.77 L448.35,413.77 L449.00,413.60 L449.65,413.55 L450.29,413.47 L450.94,413.52 L451.59,413.46 L452.23,413.43 L452.88,413.54 L453.53,413.66 L454.17,413.66 L454.82,413.72 L455.47,413.72 L456.11,413.77 L456.76,413.66 L457.41,413.47 L458.05,413.56 L458.70,413.46 L459.35,413.48 L459.99,413.44 L460.64,413.49 L461.29,413.53 L461.93,413.55 L462.58,413.57 L463.23,413.50 L463.87,413.53 L464.52,413.48 L465.17,413.50 L465.81,413.50 L466.46,413.60 L467.11,413.68 L467.75,413.64 L468.40,413.68 L469.05,413.75 L469.69,413.70 L470.34,413.61 L470.99,413.58 L471.63,413.70 L472.28,413.74 L472.93,413.59 L473.57,413.55 L474.22,413.51 L474.87,413.50 L475.51,413.35 L476.16,413.35 L476.81,413.39 L477.45,413.31 L478.10,413.35 L478.75,413.31 L479.39,413.35 L480.04,413.34 L480.69,413.48 L481.33,413.57 L481.98,413.63 L482.63,413.53 L483.27,413.56 L483.92,413.49 L484.57,413.32 L485.21,413.35 L485.86,413.22 L486.51,413.25 L487.15,413.17 L487.80,413.22 L488.45,413.30 L489.09,413.27 L489.74,413.34 L490.39,413.41 L491.03,413.52 L491.68,413.44 L492.33,413.41 L492.97,413.35 L493.62,413.30 L494.27,413.27 L494.91,413.24 L495.56,413.28 L496.21,413.33 L496.85,413.37 L497.50,413.32 L498.15,413.27 L498.79,413.30 L499.44,413.35 L500.09,413.25 L500.73,413.27 L501.38,413.33 L502.03,413.38 L502.67,413.37 L503.32,413.32 L503.97,413.32 L504.61,413.29 L505.26,413.24 L505.91,413.21 L506.55,413.12 L507.20,413.18" fill="none" stroke="#e8168b" stroke-width="1.4" stroke-linejoin="round" opacity="1"/>
<path d="M390.80,412.24 L391.45,412.17 L392.09,412.25 L392.74,412.38 L393.39,412.45 L394.03,412.08 L394.68,412.01 L395.33,411.92 L395.97,411.81 L396.62,411.81 L397.27,411.83 L397.91,411.92 L398.56,411.97 L399.21,412.02 L399.85,412.02 L400.50,412.13 L401.15,412.02 L401.79,412.01 L402.44,412.34 L403.09,412.28 L403.73,412.20 L404.38,412.38 L405.03,412.66 L405.67,412.46 L406.32,412.06 L406.97,412.21 L407.61,412.25 L408.26,412.06 L408.91,412.00 L409.55,412.30 L410.20,412.23 L410.85,412.19 L411.49,412.30 L412.14,412.22 L412.79,411.99 L413.43,411.75 L414.08,412.08 L414.73,411.93 L415.37,411.77 L416.02,411.76 L416.67,411.80 L417.31,411.94 L417.96,411.86 L418.61,412.04 L419.25,412.12 L419.90,412.25 L420.55,412.24 L421.19,412.23 L421.84,411.85 L422.49,411.61 L423.13,411.60 L423.78,411.45 L424.43,411.38 L425.07,411.26 L425.72,411.49 L426.37,411.65 L427.01,411.72 L427.66,411.90 L428.31,411.91 L428.95,412.01 L429.60,412.05 L430.25,412.11 L430.89,412.05 L431.54,411.84 L432.19,412.12 L432.83,412.23 L433.48,412.31 L434.13,412.49 L434.77,412.37 L435.42,412.49 L436.07,412.51 L436.71,412.26 L437.36,412.00 L438.01,411.82 L438.65,412.13 L439.30,412.01 L439.95,411.83 L440.59,411.82 L441.24,411.86 L441.89,411.73 L442.53,411.29 L443.18,411.25 L443.83,411.26 L444.47,411.31 L445.12,411.54 L445.77,411.47 L446.41,411.82 L447.06,411.83 L447.71,411.44 L448.35,411.49 L449.00,411.30 L449.65,411.38 L450.29,411.47 L450.94,411.51 L451.59,411.89 L452.23,411.70 L452.88,411.85 L453.53,411.89 L454.17,411.74 L454.82,411.78 L455.47,411.83 L456.11,411.94 L456.76,411.77 L457.41,411.67 L458.05,411.68 L458.70,411.92 L459.35,411.75 L459.99,411.84 L460.64,412.01 L461.29,412.17 L461.93,412.02 L462.58,411.96 L463.23,412.05 L463.87,412.06 L464.52,412.01 L465.17,411.80 L465.81,412.06 L466.46,411.95 L467.11,411.91 L467.75,412.07 L468.40,411.95 L469.05,412.10 L469.69,411.86 L470.34,411.86 L470.99,412.02 L471.63,411.76 L472.28,411.92 L472.93,411.91 L473.57,412.08 L474.22,411.86 L474.87,411.63 L475.51,411.67 L476.16,411.34 L476.81,411.38 L477.45,411.21 L478.10,411.35 L478.75,411.42 L479.39,411.34 L480.04,411.58 L480.69,411.44 L481.33,411.50 L481.98,411.45 L482.63,411.37 L483.27,411.60 L483.92,411.58 L484.57,411.53 L485.21,411.20 L485.86,411.22 L486.51,411.24 L487.15,411.10 L487.80,411.09 L488.45,411.19 L489.09,411.59 L489.74,411.46 L490.39,411.49 L491.03,411.51 L491.68,411.47 L492.33,411.58 L492.97,411.52 L493.62,411.55 L494.27,411.50 L494.91,411.46 L495.56,411.41 L496.21,411.68 L496.85,411.68 L497.50,411.90 L498.15,412.05 L498.79,412.09 L499.44,412.08 L500.09,411.75 L500.73,411.55 L501.38,411.25 L502.03,411.24 L502.67,411.35 L503.32,411.37 L503.97,411.40 L504.61,411.43 L505.26,411.55 L505.91,411.48 L506.55,411.03 L507.20,410.94" fill="none" stroke="#24609a" stroke-width="1.4" stroke-linejoin="round" stroke-dasharray="2.2 0.8" opacity="1"/>
<path d="M390.80,411.84 L391.29,411.79 L391.77,411.75 L392.25,411.68 L392.74,411.57 L393.23,411.65 L393.71,411.64 L394.19,411.54 L394.68,411.59 L395.17,411.63 L395.65,411.63 L396.13,411.55 L396.62,411.32 L397.11,411.23 L397.59,411.08 L398.07,410.84 L398.56,410.55 L399.05,410.22 L399.53,409.91 L400.01,409.33 L400.50,408.78 L400.99,408.14 L401.47,407.41 L401.96,406.60 L402.44,405.79 L402.93,404.95 L403.41,403.93 L403.90,403.03 L404.38,402.15 L404.87,401.27 L405.35,400.24 L405.84,399.37 L406.32,398.55 L406.81,397.58 L407.29,396.57 L407.78,395.56 L408.26,394.68 L408.75,393.64 L409.23,392.59 L409.72,391.48 L410.20,390.30 L410.69,389.09 L411.17,387.69 L411.66,386.25 L412.14,384.86 L412.62,383.75 L413.11,382.57 L413.60,381.29 L414.08,380.38 L414.56,379.51 L415.05,378.61 L415.54,377.70 L416.02,377.10 L416.50,376.59 L416.99,375.80 L417.48,375.12 L417.96,374.51 L418.44,373.74 L418.93,372.88 L419.42,372.12 L419.90,371.34 L420.38,370.71 L420.87,369.73 L421.36,369.00 L421.84,368.18 L422.32,367.37 L422.81,366.56 L423.30,365.67 L423.78,365.12 L424.26,364.50 L424.75,364.05 L425.24,363.52 L425.72,362.99 L426.21,362.49 L426.69,362.08 L427.18,361.44 L427.66,360.66 L428.15,360.07 L428.63,359.54 L429.12,358.95 L429.60,358.37 L430.09,357.81 L430.57,357.31 L431.06,356.76 L431.54,356.27 L432.03,355.79 L432.51,355.21 L433.00,354.74 L433.48,354.33 L433.97,353.87 L434.45,353.39 L434.94,353.02 L435.42,352.70 L435.91,352.45 L436.39,352.19 L436.88,351.92 L437.36,351.71 L437.85,351.33 L438.33,350.90 L438.81,350.50 L439.30,350.15 L439.79,349.72 L440.27,349.32 L440.75,348.85 L441.24,348.70 L441.73,348.37 L442.21,348.02 L442.69,347.77 L443.18,347.48 L443.67,347.27 L444.15,346.89 L444.63,346.61 L445.12,346.27 L445.61,345.74 L446.09,345.33 L446.58,345.09 L447.06,344.87 L447.55,344.66 L448.03,344.46 L448.51,344.51 L449.00,344.48 L449.49,344.25 L449.97,343.86 L450.46,343.58 L450.94,343.25 L451.43,342.96 L451.91,342.57 L452.40,342.36 L452.88,342.20 L453.37,342.00 L453.85,341.86 L454.34,341.75 L454.82,341.75 L455.31,341.54 L455.79,341.44 L456.28,341.33 L456.76,341.36 L457.25,341.23 L457.73,341.07 L458.22,341.05 L458.70,340.97 L459.19,340.95 L459.67,340.89 L460.16,340.84 L460.64,340.84 L461.12,340.77 L461.61,340.78 L462.10,340.81 L462.58,340.74 L463.06,340.87 L463.55,340.73 L464.04,340.83 L464.52,340.87 L465.00,340.86 L465.49,340.91 L465.98,340.69 L466.46,340.74 L466.95,340.60 L467.43,340.46 L467.92,340.31 L468.40,340.10 L468.88,340.22 L469.37,340.07 L469.86,340.08 L470.34,340.06 L470.83,340.07 L471.31,340.12 L471.80,340.03 L472.28,340.10 L472.76,340.18 L473.25,340.09 L473.74,340.10 L474.22,340.10 L474.71,340.05 L475.19,340.08 L475.68,339.88 L476.16,339.93 L476.65,339.92 L477.13,339.95 L477.62,339.97 L478.10,339.90 L478.59,339.87 L479.07,339.90 L479.56,339.80 L480.04,339.66 L480.53,339.50 L481.01,339.47 L481.50,339.57 L481.98,339.64 L482.47,339.77 L482.95,339.83 L483.44,339.94 L483.92,340.12 L484.41,340.16 L484.89,340.18 L485.38,340.17 L485.86,340.25 L486.35,340.44 L486.83,340.39 L487.32,340.52 L487.80,340.51 L488.29,340.61 L488.77,340.75 L489.25,340.89 L489.74,341.00 L490.23,340.89 L490.71,340.98 L491.20,341.00 L491.68,341.00 L492.17,340.94 L492.65,340.84 L493.13,340.94 L493.62,341.03 L494.11,341.21 L494.59,341.15 L495.08,341.12 L495.56,341.31 L496.05,341.43 L496.53,341.37 L497.01,341.22 L497.50,341.37 L497.99,341.42 L498.47,341.47 L498.96,341.46 L499.44,341.64 L499.93,341.72 L500.41,341.69 L500.90,341.68 L501.38,341.59 L501.87,341.75 L502.35,341.66 L502.84,341.83 L503.32,341.99 L503.81,342.09 L504.29,342.17 L504.78,342.17 L505.26,342.23 L505.75,342.20 L506.23,342.15 L506.72,342.21 L507.20,342.26" fill="none" stroke="#7b4a26" stroke-width="1.4" stroke-linejoin="round" opacity="1"/>
<text x="459.80" y="335.50" font-size="7.3" text-anchor="start" fill="#7b4a26" color="#7b4a26" stroke-width="0.18" stroke="currentColor" textLength="20.8" lengthAdjust="spacingAndGlyphs" >EGF-1</text>
<text x="441.50" y="385.20" font-size="7.3" text-anchor="start" fill="#24609a" color="#24609a" stroke-width="0.18" stroke="currentColor" textLength="12.5" lengthAdjust="spacingAndGlyphs" >FXII</text>
<text x="478.50" y="385.20" font-size="7.3" text-anchor="start" fill="#c4c4c4" color="#c4c4c4" stroke-width="0.18" stroke="currentColor" textLength="18.5" lengthAdjust="spacingAndGlyphs" >EGF2</text>
<text x="441.00" y="393.80" font-size="7.3" text-anchor="start" fill="#632c88" color="#632c88" stroke-width="0.18" stroke="currentColor" textLength="14.0" lengthAdjust="spacingAndGlyphs" >FN2</text>
<text x="479.60" y="393.80" font-size="7.3" text-anchor="start" fill="#3db54a" color="#3db54a" stroke-width="0.18" stroke="currentColor" textLength="16.1" lengthAdjust="spacingAndGlyphs" >KNG</text>
<text x="441.00" y="402.20" font-size="7.3" text-anchor="start" fill="#e8168b" color="#e8168b" stroke-width="0.18" stroke="currentColor" textLength="13.0" lengthAdjust="spacingAndGlyphs" >FN1</text>
<text x="480.20" y="402.20" font-size="7.3" text-anchor="start" fill="#1c7a55" color="#1c7a55" stroke-width="0.18" stroke="currentColor" textLength="15.1" lengthAdjust="spacingAndGlyphs" >PRR</text>
<path d="M0,0 H520 V465 H0 Z M1,1 V463.8 H518.8 V1 Z" fill="#000" fill-rule="evenodd"/>
</svg>
</body></html>
